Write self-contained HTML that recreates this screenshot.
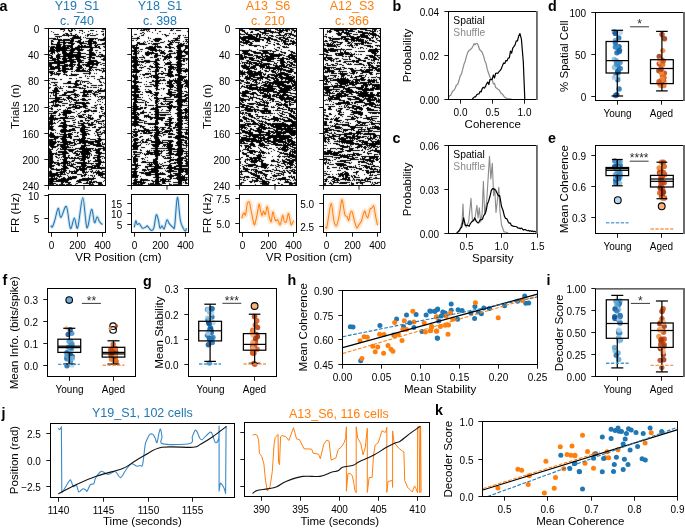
<!DOCTYPE html>
<html><head><meta charset="utf-8"><style>
html,body{margin:0;padding:0;background:#fff;}
svg{display:block;font-family:"Liberation Sans",sans-serif;will-change:transform;}
</style></head><body>
<svg width="685" height="528" viewBox="0 0 685 528">
<defs><filter id="rblur" x="-2%" y="-1%" width="104%" height="102%"><feConvolveMatrix order="3" kernelMatrix="0.02 0.08 0.02 0.08 1 0.08 0.02 0.08 0.02" divisor="1.4" edgeMode="none"/></filter></defs>
<rect width="685" height="528" fill="#fff"/>
<path d="M60 29.5h5m3 0h1m2 0h2m1 0h1m27 0h3M64 30.5h1m3 0h2m1 0h2m2 0h1m3 0h4m7 0h4M51 31.5h1m11 0h1m5 0h3m10 0h1m5 0h1m7 0h1m4 0h3M53 32.5h1m25 0h1m4 0h1M65 33.5h3m2 0h2m10 0h1m7 0h1m1 0h1m10 0h1M54 34.5h5m4 0h2m1 0h3m2 0h1m3 0h2m10 0h3m6 0h2m4 0h2M62 35.5h14m1 0h1m7 0h1m1 0h2m1 0h6m7 0h1M55 36.5h7m6 0h1m4 0h6m1 0h1m6 0h1M57 37.5h1m1 0h1m12 0h9m2 0h1m1 0h1m18 0h1M49 38.5h7m1 0h1m12 0h11m5 0h12m5 0h2M53 39.5h9m1 0h7m1 0h3m6 0h2m7 0h5m1 0h1m2 0h7M51 40.5h2m5 0h16m4 0h3m7 0h5m5 0h1m1 0h5M51 41.5h3m4 0h2m3 0h2m5 0h4m1 0h6m2 0h1m1 0h11M51 42.5h1m5 0h16m4 0h7m4 0h4m1 0h4m7 0h1M51 43.5h2m4 0h3m3 0h3m2 0h7m4 0h8m1 0h9m5 0h3M51 44.5h11m1 0h2m6 0h3m6 0h2m5 0h5m3 0h1m1 0h8M56 45.5h5m2 0h10m5 0h2m1 0h2m1 0h2m3 0h3m2 0h4M49 46.5h1m1 0h4m1 0h5m1 0h4m1 0h6m4 0h15m3 0h2m1 0h2m3 0h2M50 47.5h19m1 0h3m2 0h25m4 0h1M50 48.5h4m1 0h15m1 0h9m1 0h1m8 0h3m6 0h2M50 49.5h5m1 0h11m3 0h14m5 0h4M49 50.5h26m2 0h6m4 0h6m2 0h3m5 0h2M49 51.5h6m1 0h4m2 0h4m4 0h4m4 0h2m9 0h3M51 52.5h4m2 0h1m4 0h5m2 0h12m8 0h5m2 0h1m2 0h2M50 53.5h3m1 0h1m3 0h1m3 0h11m4 0h9m3 0h6M49 54.5h1m2 0h1m4 0h4m2 0h18m5 0h10m3 0h4M49 55.5h3m4 0h4m3 0h18m8 0h7m2 0h1m2 0h4M51 56.5h2m3 0h30m3 0h3m4 0h9M49 57.5h4m3 0h4m3 0h3m2 0h6m1 0h9m3 0h8m5 0h1m3 0h1M50 58.5h6m1 0h4m1 0h10m4 0h4m3 0h3m3 0h2m1 0h3m8 0h2M52 59.5h7m3 0h5m2 0h12m7 0h3m10 0h4M49 60.5h7m1 0h3m3 0h11m3 0h7m5 0h8m6 0h2M54 61.5h22m1 0h5m6 0h10M49 62.5h18m3 0h6m2 0h6m1 0h9m2 0h5M49 63.5h16m5 0h3m5 0h2m7 0h12m3 0h3M49 64.5h3m5 0h3m4 0h4m1 0h7m1 0h3m2 0h16m2 0h2M49 65.5h3m5 0h16m1 0h1m2 0h5m1 0h1m1 0h5m2 0h2m2 0h2m5 0h2M49 66.5h5m1 0h5m2 0h6m1 0h5m4 0h4m4 0h7M50 67.5h10m2 0h4m5 0h2m3 0h7m6 0h8M50 68.5h11m1 0h7m1 0h3m4 0h5m1 0h1m1 0h1m3 0h3m9 0h4M49 69.5h6m3 0h2m2 0h11m3 0h4m2 0h2m4 0h3m1 0h1m2 0h5m3 0h1M58 70.5h8m9 0h11m1 0h1m1 0h3m1 0h1m2 0h1m2 0h3m1 0h2M49 71.5h5m3 0h4m1 0h6m3 0h2m1 0h1m1 0h14m12 0h3M49 72.5h4m1 0h1m1 0h1m6 0h4m22 0h2m11 0h1M50 73.5h5m1 0h5m3 0h1m6 0h1m11 0h8m3 0h1m1 0h1M51 74.5h2m1 0h6m3 0h4m4 0h8m10 0h1M50 75.5h2m6 0h1m7 0h2m1 0h8m8 0h1M85 76.5h1m1 0h1m1 0h1m1 0h4m5 0h3M79 77.5h3m20 0h1M49 78.5h6m14 0h3m4 0h1m10 0h2m5 0h1m5 0h5M52 79.5h1m1 0h3m3 0h2m35 0h3M49 80.5h1m26 0h4m1 0h1m17 0h1M68 81.5h3m4 0h4m1 0h1m1 0h7m10 0h2M51 82.5h7m9 0h4m4 0h2m3 0h1m1 0h1m1 0h1m4 0h1m10 0h2m1 0h1M49 83.5h1m4 0h1m8 0h15m2 0h1m6 0h2m1 0h2m12 0h1M50 84.5h1m4 0h2m17 0h8m19 0h1M53 85.5h4m18 0h4m4 0h3m5 0h6m1 0h5M57 86.5h1m2 0h1m2 0h1m2 0h1m1 0h3m2 0h4m7 0h2m1 0h1M49 87.5h2m4 0h2m1 0h1m1 0h1m7 0h13m1 0h1m4 0h2m1 0h2m1 0h4m1 0h1M49 88.5h1m4 0h4m1 0h4m16 0h7m14 0h2M54 89.5h4m15 0h2m9 0h1m13 0h1m1 0h1m3 0h1M52 90.5h7m3 0h1m3 0h1m6 0h4m6 0h4m1 0h5m4 0h8M53 91.5h7m7 0h8m8 0h9m1 0h1m1 0h2m1 0h7M49 92.5h8m7 0h10m6 0h12m2 0h5M51 93.5h1m1 0h1m1 0h4m5 0h3m7 0h2m7 0h2m2 0h1m4 0h3m4 0h2M53 94.5h1m1 0h2m5 0h4m5 0h8m4 0h6m1 0h1m2 0h5M50 95.5h1m2 0h4m2 0h12m3 0h4m1 0h1m2 0h5m7 0h2M50 96.5h1m4 0h2m11 0h2m5 0h1m1 0h2m3 0h7m1 0h1m4 0h1m1 0h1m1 0h6M55 97.5h7m4 0h6m2 0h3m21 0h1m2 0h2m1 0h1M49 98.5h11m3 0h1m3 0h6m9 0h3m16 0h1m1 0h2M55 99.5h11m2 0h1m2 0h5m2 0h1m1 0h6m2 0h3m7 0h3m1 0h1M53 100.5h6m5 0h1m1 0h1m2 0h1m3 0h6m3 0h6m9 0h1M51 101.5h12m6 0h1m1 0h1m4 0h1m21 0h1m1 0h1M49 102.5h5m1 0h2m1 0h4m8 0h1m3 0h11m1 0h3m6 0h1m6 0h1M53 103.5h1m1 0h1m6 0h6m7 0h15M53 104.5h1m1 0h4m10 0h7m6 0h4m11 0h1m1 0h2m3 0h1M51 105.5h10m1 0h3m4 0h2m2 0h1m1 0h5m3 0h4m7 0h3M49 106.5h1m2 0h1m1 0h4m2 0h1m11 0h5m2 0h9m7 0h1m5 0h1M51 107.5h1m14 0h1m1 0h14m1 0h3m5 0h4m1 0h1m3 0h4M49 108.5h4m14 0h4m4 0h5m5 0h3m7 0h2m3 0h2M51 109.5h2m4 0h1m1 0h2m4 0h1m1 0h1m5 0h2m13 0h2m11 0h3M58 110.5h1m4 0h8m13 0h8m1 0h4M49 111.5h4m1 0h4m5 0h9m4 0h1m4 0h1m1 0h6m2 0h6m4 0h2M53 112.5h4m4 0h14m5 0h1m3 0h2m13 0h1m4 0h1M49 113.5h7m3 0h1m3 0h8m7 0h2m13 0h1m8 0h3M51 114.5h1m7 0h2m1 0h5m10 0h1m4 0h4m2 0h1m15 0h1M50 115.5h6m2 0h2m3 0h4m11 0h4m1 0h1m4 0h4m7 0h5M50 116.5h4m11 0h2m1 0h1m1 0h4m2 0h1m1 0h5m3 0h1m1 0h1m1 0h1m8 0h3m2 0h1M49 117.5h5m1 0h1m4 0h8m6 0h1m4 0h6m2 0h4m1 0h1m6 0h2M49 118.5h25m11 0h2m1 0h6m6 0h1M49 119.5h9m5 0h2m10 0h1m9 0h1m4 0h3m4 0h3M50 120.5h3m1 0h1m4 0h2m2 0h3m6 0h3m5 0h3m2 0h5m4 0h3m5 0h3M49 121.5h4m5 0h1m5 0h6m8 0h1m1 0h3m5 0h1m5 0h1m1 0h8M49 122.5h4m1 0h1m2 0h1m3 0h5m7 0h3m2 0h1m4 0h2m2 0h1m3 0h3m2 0h1m1 0h1M49 123.5h7m4 0h6m12 0h12m1 0h2m5 0h4m1 0h1M49 124.5h4m10 0h4m6 0h2m6 0h3m4 0h8m5 0h1m2 0h1M49 125.5h1m1 0h1m7 0h14m5 0h7m3 0h5m10 0h1M49 126.5h5m4 0h9m2 0h7m6 0h4m8 0h2m5 0h1m2 0h1M49 127.5h4m9 0h5m8 0h5m1 0h9m2 0h4m2 0h7M49 128.5h4m10 0h3m6 0h3m5 0h5m14 0h2M49 129.5h6m6 0h6m2 0h6m5 0h8m8 0h4M51 130.5h3m1 0h1m4 0h16m4 0h5m3 0h3m5 0h3m4 0h2M60 131.5h11m9 0h8m7 0h2m3 0h1m3 0h1M50 132.5h2m3 0h1m5 0h5m6 0h1m1 0h2m1 0h2m2 0h5m10 0h5m1 0h3M50 133.5h4m3 0h1m1 0h1m4 0h2m2 0h4m5 0h1m4 0h7m5 0h1m2 0h1m3 0h2m1 0h1M49 134.5h5m6 0h13m7 0h7m1 0h2m7 0h5M49 135.5h6m8 0h4m1 0h3m6 0h1m4 0h5m8 0h1m1 0h2M49 136.5h18m1 0h4m2 0h5m3 0h3m13 0h3M50 137.5h9m3 0h10m10 0h4m13 0h1M54 138.5h4m2 0h6m4 0h2m7 0h1m1 0h5m1 0h3m7 0h4M49 139.5h7m5 0h6m6 0h12m5 0h6m2 0h7M49 140.5h4m2 0h1m6 0h5m6 0h2m2 0h11m7 0h7M49 141.5h7m1 0h3m2 0h9m3 0h1m1 0h1m2 0h22M49 142.5h8m1 0h1m1 0h15m4 0h15m1 0h5m2 0h1M49 143.5h7m7 0h5m1 0h4m1 0h2m1 0h4m1 0h4m2 0h6m3 0h4m1 0h1m1 0h1M49 144.5h6m2 0h13m4 0h3m7 0h2m4 0h11m1 0h3M49 145.5h5m3 0h2m1 0h6m1 0h1m2 0h5m6 0h9m3 0h9M50 146.5h8m2 0h9m12 0h5m10 0h8M51 147.5h5m5 0h10m1 0h1m7 0h5m1 0h1m16 0h2M49 148.5h1m2 0h1m5 0h1m1 0h1m1 0h5m8 0h19m1 0h1m2 0h7M49 149.5h4m4 0h1m2 0h16m3 0h12m1 0h1m2 0h6m2 0h2M49 150.5h2m5 0h1m7 0h2m2 0h6m3 0h1m4 0h9m2 0h7m3 0h2M49 151.5h3m6 0h9m2 0h4m2 0h14m1 0h2m4 0h4M49 152.5h3m4 0h1m1 0h10m4 0h1m1 0h2m4 0h10m5 0h7M49 153.5h8m5 0h7m4 0h5m1 0h1m1 0h10m5 0h9M49 154.5h5m1 0h11m10 0h4m1 0h9m1 0h1m6 0h3M49 155.5h4m5 0h2m3 0h3m2 0h2m5 0h4m3 0h4m1 0h1m1 0h1m1 0h1m2 0h6M49 156.5h4m2 0h2m5 0h4m2 0h1m10 0h9m1 0h1m7 0h7M49 157.5h4m3 0h2m1 0h1m1 0h1m1 0h7m1 0h2m1 0h2m1 0h2m3 0h8m3 0h8m3 0h1M49 158.5h4m5 0h1m5 0h4m1 0h17m1 0h2m4 0h2m2 0h3m2 0h1m1 0h1M49 159.5h4m7 0h1m1 0h5m7 0h1m4 0h1m1 0h5m9 0h1m1 0h4M49 160.5h4m4 0h2m4 0h4m5 0h3m5 0h5m3 0h1m1 0h1m4 0h6M49 161.5h5m9 0h7m1 0h3m9 0h2m3 0h2m3 0h9m1 0h1M49 162.5h10m2 0h7m1 0h2m4 0h12m1 0h1m9 0h7M49 163.5h4m1 0h2m1 0h13m1 0h1m1 0h1m3 0h17m1 0h6M49 164.5h3m4 0h4m3 0h3m1 0h1m1 0h1m1 0h5m5 0h5m5 0h1m4 0h5M49 165.5h6m3 0h2m1 0h1m1 0h3m1 0h6m8 0h6m5 0h8m2 0h1M49 166.5h5m8 0h5m3 0h4m2 0h10m1 0h6m1 0h6M49 167.5h3m11 0h5m5 0h3m1 0h1m1 0h2m1 0h3m1 0h10m1 0h8M50 168.5h4m2 0h1m4 0h8m6 0h2m2 0h8m4 0h14M51 169.5h15m10 0h11m2 0h3m9 0h1M50 170.5h1m5 0h4m1 0h1m1 0h4m2 0h1m4 0h1m1 0h3m1 0h5m7 0h1m3 0h1m1 0h1M49 171.5h3m8 0h6m3 0h9m4 0h3m1 0h1m1 0h1m1 0h3m2 0h1m1 0h3m2 0h3M49 172.5h3m4 0h9m1 0h1m2 0h1m1 0h2m1 0h3m5 0h6m3 0h1m1 0h10M49 173.5h9m2 0h3m1 0h1m2 0h2m2 0h6m6 0h1m1 0h1m7 0h1m2 0h9M49 174.5h17m11 0h5m2 0h3m9 0h1m1 0h7M49 175.5h10m1 0h1m6 0h1m13 0h5m2 0h1m1 0h3m1 0h1m3 0h5M49 176.5h6m2 0h5m6 0h1m1 0h1m1 0h5m4 0h2m1 0h1m7 0h1m1 0h1m5 0h1m1 0h1M51 177.5h2m1 0h1m1 0h1m2 0h1m3 0h2m3 0h9m11 0h1m4 0h1m7 0h4M49 178.5h9m3 0h5m1 0h9m6 0h14m8 0h1M49 179.5h8m1 0h14m7 0h15M49 180.5h5m2 0h13m8 0h12m2 0h1m12 0h1M49 181.5h19m8 0h5m6 0h1m1 0h3m1 0h4m6 0h1M49 182.5h4m8 0h3m1 0h6m7 0h4m4 0h2m1 0h6m1 0h6M49 183.5h7m5 0h2m5 0h2m6 0h2m5 0h8m1 0h1m5 0h4M49 184.5h5m2 0h2m1 0h6m1 0h6m3 0h1m13 0h5m4 0h5" stroke="#000" stroke-width="1" fill="none" shape-rendering="crispEdges" filter="url(#rblur)"/>
<path d="M137 29.5h1m3 0h1m1 0h7m5 0h1m15 0h1m1 0h1M140 30.5h5m1 0h1m1 0h1m6 0h1m14 0h3m3 0h5M147 31.5h1m1 0h1m9 0h2m26 0h1M142 32.5h2m8 0h1M140 33.5h2m2 0h1m12 0h1m11 0h1m3 0h1m1 0h1M134 34.5h3m6 0h1m18 0h1m1 0h2M141 35.5h3m21 0h4m9 0h3m2 0h1m1 0h1M132 36.5h1m6 0h1m26 0h1m11 0h2M137 37.5h2m9 0h1m28 0h1m1 0h1m4 0h4M132 38.5h8m8 0h1m1 0h1m4 0h6m12 0h7M137 39.5h1m15 0h9m13 0h3m7 0h3M132 40.5h2m2 0h1m12 0h1m4 0h6m8 0h1m2 0h9m6 0h1M144 41.5h1m2 0h1m3 0h2m2 0h4m5 0h1m3 0h3m1 0h1m1 0h1m8 0h1m1 0h3M137 42.5h3m3 0h1m1 0h1m14 0h4m6 0h4m1 0h5m7 0h1M137 43.5h8m3 0h2m1 0h1m1 0h7m9 0h3m6 0h1m1 0h2m1 0h2m1 0h1M136 44.5h2m1 0h8m5 0h6m9 0h6m5 0h6M132 45.5h6m17 0h1m1 0h1m10 0h2m7 0h11M132 46.5h3m1 0h1m12 0h4m1 0h7m4 0h2m2 0h2m5 0h7m2 0h3M132 47.5h7m7 0h10m1 0h5m3 0h9m3 0h4m4 0h3M133 48.5h6m6 0h11m13 0h2m3 0h1m2 0h4m4 0h3M134 49.5h3m3 0h3m5 0h9m2 0h1m18 0h3m3 0h2M132 50.5h5m1 0h1m11 0h12m2 0h1m4 0h3m4 0h6m1 0h2M132 51.5h6m1 0h1m1 0h1m5 0h2m3 0h1m2 0h2m2 0h1m1 0h3m4 0h5m4 0h11M134 52.5h3m1 0h1m6 0h9m6 0h5m9 0h1m1 0h7m1 0h4M133 53.5h6m6 0h13m2 0h6m3 0h7m1 0h5m3 0h3M133 54.5h4m8 0h5m1 0h1m3 0h3m6 0h1m2 0h4m6 0h5m4 0h2M135 55.5h2m5 0h1m3 0h3m5 0h7m1 0h1m3 0h2m1 0h2m6 0h9M132 56.5h5m6 0h1m10 0h4m4 0h10m4 0h9M132 57.5h6m1 0h6m5 0h3m1 0h3m7 0h8m2 0h8M132 58.5h6m6 0h1m12 0h2m1 0h1m3 0h3m1 0h2m6 0h12M133 59.5h4m1 0h1m2 0h2m12 0h4m4 0h3m1 0h1m8 0h5m2 0h2m1 0h2M132 60.5h6m6 0h6m5 0h5m3 0h1m5 0h1m8 0h7m1 0h1M132 61.5h25m13 0h1m6 0h5m1 0h2M132 62.5h6m1 0h1m1 0h3m2 0h4m4 0h4m6 0h1m2 0h5m4 0h5M134 63.5h4m7 0h1m7 0h1m1 0h4m6 0h6m6 0h5m4 0h1M133 64.5h7m1 0h1m12 0h6m5 0h20M132 65.5h7m1 0h1m1 0h1m7 0h1m4 0h3m6 0h1m5 0h2m4 0h6M132 66.5h5m7 0h2m3 0h4m2 0h4m9 0h6m3 0h5M133 67.5h4m2 0h5m7 0h12m5 0h13M134 68.5h3m4 0h1m5 0h3m6 0h2m1 0h1m4 0h2m3 0h5m1 0h1m1 0h8m1 0h1M132 69.5h6m11 0h2m4 0h4m6 0h1m2 0h4m1 0h2m1 0h6m3 0h3M133 70.5h9m13 0h4m6 0h1m2 0h3m5 0h12M132 71.5h8m8 0h1m1 0h1m1 0h7m2 0h2m5 0h5m4 0h5m1 0h5M132 72.5h7m16 0h2m6 0h1m4 0h5m4 0h4m4 0h1M136 73.5h1m8 0h6m4 0h2m1 0h14m6 0h4M133 74.5h1m1 0h2m3 0h1m1 0h7m1 0h1m4 0h4m2 0h2m4 0h6m2 0h5m6 0h1M132 75.5h5m6 0h2m6 0h7m7 0h9m1 0h7M132 76.5h6m1 0h1m9 0h3m1 0h6m9 0h6m4 0h9M133 77.5h5m6 0h1m1 0h3m2 0h1m1 0h12m5 0h1m7 0h8M134 78.5h4m3 0h1m13 0h4m16 0h1m1 0h7M134 79.5h4m18 0h2m2 0h1m2 0h2m4 0h1m3 0h1m1 0h1m1 0h6m1 0h1m1 0h1M133 80.5h3m16 0h2m1 0h11m3 0h14m1 0h4M132 81.5h7m7 0h1m5 0h8m7 0h6m1 0h7m2 0h5M133 82.5h9m7 0h3m3 0h4m8 0h5m3 0h7m3 0h3M134 83.5h3m18 0h6m1 0h1m2 0h1m1 0h5m1 0h2m1 0h5m3 0h4M134 84.5h2m8 0h1m1 0h1m3 0h4m1 0h3m11 0h4m4 0h7m2 0h2M132 85.5h6m15 0h6m7 0h8m2 0h7m2 0h3M132 86.5h7m1 0h1m4 0h7m2 0h4m9 0h7m3 0h6m1 0h4M132 87.5h6m18 0h2m11 0h4m1 0h2m1 0h6m4 0h1M132 88.5h7m16 0h3m3 0h1m1 0h2m5 0h1m5 0h6m3 0h1M134 89.5h6m5 0h1m2 0h1m7 0h4m3 0h1m4 0h5m4 0h5M134 90.5h4m11 0h2m5 0h1m11 0h2m4 0h8M132 91.5h9m4 0h7m16 0h4m5 0h6m1 0h3M132 92.5h8m2 0h1m3 0h6m2 0h5m9 0h8m2 0h4m4 0h2M134 93.5h2m14 0h3m2 0h4m7 0h6m5 0h7M132 94.5h7m1 0h3m10 0h5m9 0h15m3 0h3M132 95.5h7m9 0h1m3 0h1m1 0h4m3 0h1m7 0h6m1 0h6m2 0h4M133 96.5h6m12 0h1m4 0h1m13 0h2m2 0h12M134 97.5h7m1 0h1m11 0h4m6 0h7m3 0h8m4 0h2M133 98.5h4m12 0h1m4 0h12m12 0h4m3 0h3M132 99.5h10m8 0h1m5 0h3m4 0h11m3 0h10M134 100.5h3m5 0h3m6 0h1m3 0h3m1 0h1m5 0h1m10 0h11M134 101.5h4m7 0h2m8 0h4m4 0h10m2 0h13M133 102.5h11m1 0h1m1 0h2m6 0h3m3 0h1m7 0h4m4 0h6m1 0h1M133 103.5h3m9 0h1m9 0h2m1 0h1m1 0h3m2 0h1m1 0h4m6 0h5m4 0h1M133 104.5h4m8 0h2m9 0h2m3 0h4m1 0h4m1 0h1m5 0h6M133 105.5h4m3 0h1m4 0h2m1 0h6m1 0h3m11 0h4m5 0h10M132 106.5h7m17 0h26M133 107.5h5m2 0h3m1 0h3m6 0h1m1 0h6m6 0h5m1 0h3m1 0h5m5 0h1M132 108.5h11m1 0h2m5 0h7m10 0h4m5 0h4m4 0h2M133 109.5h8m9 0h9m3 0h1m6 0h2m5 0h6m1 0h5M132 110.5h5m6 0h1m11 0h4m2 0h1m4 0h5m6 0h6m1 0h4M133 111.5h3m6 0h2m10 0h5m10 0h1m8 0h4m3 0h3M132 112.5h6m2 0h7m2 0h2m4 0h14m1 0h1m6 0h11M132 113.5h4m1 0h2m1 0h4m11 0h4m16 0h9m1 0h2M132 114.5h8m8 0h1m2 0h2m1 0h17m6 0h5m3 0h1m1 0h1M134 115.5h3m1 0h1m5 0h5m6 0h4m1 0h6m11 0h5m3 0h2M132 116.5h6m6 0h7m4 0h4m12 0h1m5 0h11M132 117.5h7m5 0h1m1 0h1m1 0h17m3 0h3m7 0h5m1 0h4M132 118.5h7m11 0h3m1 0h11m4 0h5m3 0h11M134 119.5h7m9 0h2m4 0h7m4 0h5m5 0h5m4 0h1M134 120.5h3m2 0h5m11 0h3m3 0h2m6 0h3m5 0h6m2 0h3M132 121.5h7m5 0h3m8 0h3m7 0h6m7 0h5M133 122.5h10m1 0h1m10 0h4m10 0h5m1 0h1m1 0h5m5 0h1M132 123.5h6m6 0h15m5 0h9m3 0h7m1 0h3M132 124.5h7m9 0h10m7 0h3m1 0h2m4 0h8m4 0h1M132 125.5h10m13 0h1m9 0h6m4 0h7M134 126.5h2m4 0h5m9 0h4m11 0h3m3 0h1m1 0h5M140 127.5h1m1 0h2m6 0h1m1 0h1m1 0h5m1 0h6m2 0h2m3 0h10m2 0h3M135 128.5h1m7 0h3m9 0h3m1 0h1m2 0h2m3 0h5m1 0h2m3 0h4M133 129.5h4m1 0h1m5 0h5m3 0h1m1 0h5m2 0h4m5 0h2m4 0h12M134 130.5h1m3 0h21m3 0h1m2 0h8m3 0h5m5 0h2M132 131.5h8m1 0h4m1 0h4m6 0h6m2 0h7m1 0h1m5 0h4m4 0h1M133 132.5h5m5 0h4m1 0h5m1 0h6m2 0h6m1 0h1m6 0h7m1 0h4M132 133.5h1m2 0h2m3 0h2m1 0h9m3 0h8m5 0h5m4 0h5m3 0h3M133 134.5h5m16 0h5m4 0h3m2 0h7m3 0h4m3 0h3M133 135.5h5m12 0h3m1 0h7m2 0h1m12 0h8M132 136.5h1m1 0h3m3 0h3m8 0h1m1 0h5m3 0h1m6 0h4m3 0h12M132 137.5h2m5 0h2m13 0h5m9 0h4m1 0h15M134 138.5h4m10 0h1m1 0h1m3 0h5m16 0h6m4 0h3M133 139.5h6m3 0h2m2 0h3m6 0h5m17 0h7m3 0h1M133 140.5h5m3 0h2m3 0h6m3 0h5m2 0h11m5 0h9M132 141.5h1m1 0h2m4 0h1m1 0h2m1 0h2m4 0h10m1 0h1m5 0h6m3 0h5m3 0h2M134 142.5h7m1 0h6m3 0h17m1 0h3m4 0h7m1 0h3M133 143.5h5m3 0h1m7 0h1m5 0h8m4 0h4m5 0h6m3 0h3M133 144.5h4m3 0h1m5 0h1m1 0h1m2 0h9m3 0h10m4 0h7m2 0h1M132 145.5h9m11 0h7m4 0h3m1 0h6m2 0h7m1 0h5M132 146.5h7m14 0h6m3 0h1m1 0h1m1 0h7m5 0h4m4 0h1M133 147.5h5m3 0h4m10 0h3m9 0h5m6 0h4m4 0h1M133 148.5h5m13 0h24m2 0h9M132 149.5h6m2 0h1m14 0h3m10 0h15m3 0h1M140 150.5h2m5 0h1m1 0h1m1 0h1m1 0h7m1 0h1m1 0h2m1 0h6m5 0h7M133 151.5h4m9 0h4m4 0h9m6 0h3m1 0h15M133 152.5h9m5 0h12m2 0h1m6 0h4m5 0h6m3 0h1M134 153.5h1m5 0h1m1 0h1m1 0h1m1 0h7m1 0h8m4 0h8m2 0h7m1 0h4M133 154.5h7m4 0h5m1 0h10m9 0h14m3 0h1M135 155.5h2m8 0h1m9 0h5m1 0h1m4 0h5m4 0h7m4 0h2M132 156.5h1m1 0h6m15 0h3m4 0h3m5 0h1m7 0h3m3 0h4M133 157.5h3m9 0h1m1 0h1m8 0h2m5 0h1m1 0h1m1 0h5m1 0h1m4 0h6m1 0h1M133 158.5h5m3 0h3m11 0h3m6 0h7m6 0h10M133 159.5h5m4 0h1m1 0h1m8 0h5m12 0h13m3 0h2M133 160.5h5m9 0h1m5 0h4m12 0h5m1 0h8m1 0h3M133 161.5h5m4 0h4m7 0h5m9 0h4m6 0h5m3 0h3M133 162.5h3m5 0h17m6 0h2m3 0h1m4 0h9m3 0h2M134 163.5h2m1 0h1m11 0h1m1 0h1m1 0h5m1 0h1m2 0h1m7 0h6m1 0h6m2 0h3M132 164.5h6m9 0h6m1 0h5m1 0h2m7 0h2m7 0h4m4 0h2M132 165.5h9m8 0h3m3 0h4m3 0h10m4 0h12M135 166.5h3m7 0h17m1 0h1m4 0h4m2 0h14M135 167.5h2m1 0h1m6 0h3m6 0h7m6 0h9m3 0h3M132 168.5h6m9 0h1m3 0h12m1 0h1m1 0h22M132 169.5h5m5 0h4m1 0h11m11 0h3m2 0h14M134 170.5h2m6 0h5m1 0h1m2 0h8m6 0h1m1 0h7m4 0h6m1 0h3M132 171.5h6m6 0h1m4 0h10m7 0h11m1 0h10M132 172.5h5m2 0h5m1 0h13m2 0h1m1 0h1m5 0h3m7 0h5m2 0h3M133 173.5h4m4 0h10m4 0h10m5 0h1m2 0h8m5 0h2M132 174.5h5m8 0h21m4 0h2m3 0h7m3 0h3M132 175.5h7m7 0h5m4 0h4m9 0h13m1 0h1m1 0h1M132 176.5h6m2 0h1m14 0h4m8 0h7m3 0h8M132 177.5h6m15 0h8m8 0h3m4 0h12M135 178.5h1m5 0h1m14 0h3m3 0h2m1 0h1m4 0h2m1 0h12m1 0h1M134 179.5h4m2 0h8m7 0h4m1 0h11m6 0h11M133 180.5h4m3 0h10m1 0h2m2 0h4m1 0h6m2 0h1m9 0h9M134 181.5h8m1 0h1m8 0h9m1 0h9m7 0h4m3 0h1M133 182.5h13m7 0h1m1 0h4m3 0h3m8 0h9m1 0h1m1 0h2M132 183.5h5m1 0h1m1 0h5m3 0h1m1 0h4m1 0h5m2 0h4m3 0h1m8 0h4m3 0h3M133 184.5h10m5 0h14m7 0h3m1 0h9" stroke="#000" stroke-width="1" fill="none" shape-rendering="crispEdges" filter="url(#rblur)"/>
<path d="M240 29.5h3m6 0h18m1 0h1m1 0h1m4 0h3m1 0h2m1 0h2m1 0h5m1 0h3M240 30.5h5m10 0h4m5 0h7m6 0h11m1 0h1m2 0h4M242 31.5h3m6 0h2m6 0h2m3 0h10m1 0h1m3 0h4m3 0h2m3 0h1m2 0h2M244 32.5h2m1 0h1m2 0h3m7 0h6m4 0h12m1 0h1m7 0h1m2 0h1M240 33.5h1m4 0h3m9 0h2m3 0h7m3 0h1m5 0h2m5 0h7M240 34.5h5m1 0h6m1 0h8m1 0h1m2 0h1m13 0h2m3 0h3m2 0h5M248 35.5h5m3 0h2m1 0h2m3 0h1m1 0h2m1 0h4m3 0h9m1 0h1m1 0h1m1 0h1m1 0h4M240 36.5h1m2 0h12m1 0h2m1 0h2m7 0h1m2 0h3m1 0h1m7 0h1m1 0h1m3 0h1m4 0h2M240 37.5h17m2 0h7m2 0h3m5 0h2m1 0h6m2 0h4M240 38.5h20m4 0h9m5 0h3m2 0h5m3 0h3M241 39.5h5m2 0h16m2 0h4m1 0h6m2 0h4m2 0h4m6 0h1M242 40.5h7m5 0h6m2 0h2m3 0h3m4 0h4m3 0h5m2 0h1m1 0h2m1 0h1M240 41.5h2m1 0h1m1 0h5m2 0h2m1 0h5m7 0h1m1 0h2m6 0h3m1 0h1m1 0h6m1 0h5M240 42.5h12m14 0h2m6 0h1m8 0h3m6 0h4M243 43.5h5m2 0h3m15 0h3m5 0h3m3 0h1m1 0h4m1 0h7M240 44.5h1m5 0h1m1 0h4m21 0h2m2 0h3m4 0h7m1 0h2M241 45.5h3m5 0h11m5 0h3m6 0h1m5 0h1m7 0h1m6 0h1M254 46.5h3m3 0h1m1 0h2m18 0h3m1 0h1M263 47.5h1m1 0h1m11 0h3m3 0h6M263 48.5h1m10 0h1m4 0h1M249 49.5h1m7 0h1m17 0h2m4 0h1M240 50.5h12m7 0h13m4 0h3m9 0h2M242 51.5h7m2 0h5m6 0h6m2 0h1m1 0h4m4 0h2m8 0h3M243 52.5h5m5 0h8m2 0h6m4 0h1m7 0h5m5 0h4M242 53.5h8m4 0h20m5 0h1m4 0h2m5 0h1m1 0h3M240 54.5h2m2 0h9m8 0h2m2 0h1m3 0h14m6 0h4M240 55.5h3m1 0h1m3 0h5m1 0h4m3 0h2m2 0h3m2 0h12m1 0h2m3 0h8M240 56.5h3m1 0h3m6 0h1m2 0h5m1 0h18m6 0h4m1 0h5M240 57.5h13m3 0h7m1 0h1m1 0h8m4 0h1m3 0h2m4 0h7M240 58.5h4m1 0h1m3 0h6m1 0h1m1 0h2m2 0h2m1 0h11m1 0h11m1 0h7M240 59.5h4m5 0h5m6 0h14m6 0h4m2 0h4m2 0h4M246 60.5h3m2 0h8m2 0h10m6 0h7m7 0h1m2 0h2M241 61.5h1m5 0h4m6 0h5m5 0h7m6 0h5m2 0h3m3 0h3M242 62.5h6m1 0h8m2 0h1m1 0h2m11 0h1m2 0h1m2 0h6m1 0h1m1 0h4m1 0h2M240 63.5h1m1 0h1m1 0h1m1 0h6m1 0h9m1 0h7m4 0h3m3 0h4m2 0h1m3 0h3M244 64.5h2m3 0h1m1 0h2m2 0h4m1 0h12m1 0h1m2 0h1m4 0h4m2 0h3m1 0h4M241 65.5h6m2 0h1m3 0h14m1 0h1m4 0h5m1 0h6m1 0h2m1 0h3m1 0h3M241 66.5h9m1 0h5m3 0h6m1 0h4m5 0h12m2 0h3M242 67.5h7m1 0h6m4 0h5m1 0h14m1 0h1m1 0h6m3 0h4M243 68.5h12m1 0h1m3 0h1m1 0h1m2 0h18m5 0h4M246 69.5h4m4 0h3m5 0h1m6 0h1m3 0h3m1 0h9m4 0h4M240 70.5h1m1 0h1m5 0h4m8 0h1m3 0h3m2 0h1m1 0h3m2 0h1m1 0h1m1 0h2m1 0h10M240 71.5h3m1 0h1m2 0h9m2 0h3m4 0h4m2 0h5m2 0h1m1 0h1m5 0h8M240 72.5h13m1 0h9m9 0h4m1 0h1m2 0h5m3 0h4m2 0h2M240 73.5h5m2 0h15m1 0h1m1 0h1m9 0h2m1 0h10m6 0h2M240 74.5h6m2 0h14m1 0h3m2 0h7m1 0h15M242 75.5h1m4 0h1m1 0h9m1 0h3m2 0h1m2 0h2m2 0h11m2 0h5m3 0h1M240 76.5h1m1 0h1m2 0h3m1 0h6m5 0h4m3 0h3m4 0h4m1 0h4m3 0h6m1 0h2M245 77.5h6m2 0h21m1 0h2m1 0h17M244 78.5h9m4 0h6m2 0h3m3 0h7m2 0h14M240 79.5h1m5 0h4m1 0h8m1 0h1m1 0h1m4 0h3m3 0h2m1 0h3m2 0h2m2 0h8m1 0h1M240 80.5h4m2 0h1m3 0h1m2 0h4m2 0h2m8 0h2m3 0h5m2 0h1m3 0h1m2 0h7M241 81.5h3m3 0h1m4 0h2m1 0h2m5 0h1m2 0h4m4 0h23M240 82.5h1m3 0h6m4 0h4m1 0h1m2 0h4m1 0h23m1 0h1m1 0h3M240 83.5h2m4 0h4m1 0h1m4 0h1m1 0h2m1 0h1m3 0h3m1 0h15m3 0h2m2 0h2m1 0h2M244 84.5h1m5 0h8m5 0h4m1 0h3m1 0h2m1 0h11m6 0h4M242 85.5h1m3 0h11m4 0h12m4 0h14m1 0h4M241 86.5h4m1 0h2m1 0h3m4 0h2m2 0h1m3 0h16m2 0h12m1 0h1M241 87.5h1m2 0h20m3 0h6m5 0h4m2 0h8m2 0h2M240 88.5h1m6 0h11m1 0h2m1 0h14m3 0h13m1 0h3M249 89.5h26m1 0h1m3 0h10m1 0h2m2 0h1M245 90.5h3m4 0h1m4 0h17m4 0h13m2 0h3M242 91.5h9m7 0h1m1 0h1m2 0h14m2 0h9M240 92.5h1m1 0h7m3 0h4m3 0h5m3 0h2m4 0h18M240 93.5h17m3 0h6m1 0h1m1 0h1m7 0h3m3 0h3m4 0h6M242 94.5h4m4 0h4m2 0h2m6 0h4m1 0h2m2 0h6m1 0h1m1 0h6m7 0h1M241 95.5h6m6 0h1m3 0h4m1 0h9m1 0h3m1 0h16M242 96.5h7m1 0h1m2 0h1m8 0h9m1 0h5m2 0h5m3 0h2m3 0h4M240 97.5h1m7 0h1m1 0h7m6 0h4m1 0h3m5 0h9m1 0h6m1 0h3M240 98.5h4m5 0h4m3 0h4m2 0h1m4 0h7m5 0h15M240 99.5h10m2 0h1m6 0h4m7 0h5m5 0h14m1 0h1M240 100.5h6m2 0h2m2 0h1m9 0h2m1 0h1m1 0h1m1 0h2m1 0h2m7 0h2m1 0h2m3 0h1m1 0h5M241 101.5h2m2 0h1m9 0h2m3 0h2m1 0h2m1 0h1m5 0h2m1 0h4m5 0h7m3 0h2M240 102.5h1m1 0h2m12 0h4m2 0h7m1 0h1m8 0h2m4 0h3m1 0h1m1 0h5M240 103.5h2m5 0h9m1 0h1m1 0h2m3 0h1m1 0h3m7 0h3m2 0h1m2 0h2m3 0h2M240 104.5h5m4 0h5m2 0h9m2 0h1m8 0h12m1 0h5M242 105.5h7m9 0h10m7 0h1m2 0h4m1 0h5m1 0h2M240 106.5h4m2 0h7m3 0h2m6 0h5m2 0h1m1 0h1m3 0h1m7 0h3M241 107.5h7m2 0h4m3 0h2m5 0h1m6 0h4m3 0h2m3 0h1m2 0h4M245 108.5h6m3 0h1m7 0h6m9 0h6m5 0h8M244 109.5h15m5 0h4m9 0h1m4 0h5m1 0h2m1 0h2m1 0h2M241 110.5h3m1 0h8m1 0h2m1 0h14m2 0h1m1 0h6m7 0h5M240 111.5h1m6 0h6m1 0h3m3 0h11m11 0h2m6 0h5M240 112.5h1m1 0h2m1 0h2m8 0h1m2 0h1m2 0h4m1 0h1m1 0h3m8 0h1m2 0h1m1 0h4m3 0h1m1 0h2M240 113.5h4m1 0h6m11 0h11m1 0h1m2 0h1m2 0h3m5 0h3m2 0h3M242 114.5h1m1 0h1m3 0h3m4 0h3m20 0h1m3 0h3m4 0h3M246 115.5h1m1 0h5m4 0h1m12 0h1m8 0h3m4 0h1m2 0h5m1 0h1M240 116.5h1m2 0h2m4 0h4m3 0h8m1 0h2m6 0h2m5 0h3m6 0h6M242 117.5h5m4 0h4m4 0h1m2 0h1m5 0h1m4 0h5m5 0h5m3 0h5M243 118.5h6m5 0h2m1 0h2m3 0h4m5 0h10m1 0h1m4 0h3m3 0h3M240 119.5h2m2 0h3m1 0h4m4 0h1m8 0h14m1 0h5m3 0h4m2 0h2M240 120.5h3m3 0h1m4 0h3m3 0h3m1 0h1m6 0h2m4 0h5m4 0h10M240 121.5h3m3 0h4m1 0h4m4 0h5m1 0h1m7 0h2m2 0h1m1 0h2m3 0h12M244 122.5h1m8 0h3m2 0h1m3 0h1m1 0h3m15 0h2m7 0h5M245 123.5h6m1 0h6m1 0h4m2 0h6m1 0h14m6 0h4M240 124.5h6m1 0h12m1 0h5m2 0h21m2 0h6M240 125.5h9m9 0h5m1 0h2m2 0h1m1 0h4m1 0h21M240 126.5h5m3 0h3m3 0h2m3 0h6m6 0h25M240 127.5h7m11 0h9m1 0h2m3 0h9m2 0h2m1 0h4m1 0h1m2 0h1M241 128.5h2m1 0h2m1 0h1m2 0h2m4 0h4m1 0h12m3 0h20M240 129.5h2m4 0h1m3 0h4m3 0h5m1 0h3m7 0h2m1 0h17M241 130.5h4m3 0h3m2 0h9m6 0h2m4 0h4m3 0h2m2 0h11M242 131.5h6m1 0h2m4 0h9m4 0h6m1 0h7m1 0h13M240 132.5h1m1 0h11m5 0h12m1 0h25M240 133.5h2m3 0h8m6 0h2m5 0h5m2 0h2m1 0h10m3 0h7M248 134.5h22m2 0h1m3 0h5m2 0h1m6 0h6M243 135.5h4m2 0h15m1 0h25m1 0h4M240 136.5h1m5 0h5m1 0h7m1 0h1m2 0h2m3 0h23M241 137.5h6m2 0h1m3 0h12m2 0h25m3 0h1M241 138.5h15m2 0h13m2 0h4m2 0h10m2 0h2m1 0h1M240 139.5h17m1 0h1m1 0h2m1 0h6m4 0h13m1 0h5M240 140.5h10m1 0h14m2 0h4m2 0h10m2 0h1m1 0h6M240 141.5h4m2 0h16m2 0h22m1 0h8M240 142.5h2m1 0h2m6 0h2m3 0h5m1 0h1m2 0h2m1 0h1m2 0h5m2 0h9m1 0h2m1 0h5M240 143.5h8m2 0h4m5 0h5m3 0h4m2 0h5m5 0h1m1 0h4m1 0h5M249 144.5h6m4 0h6m6 0h11m1 0h3m1 0h9M240 145.5h2m2 0h5m1 0h5m3 0h11m6 0h16m1 0h4M241 146.5h1m3 0h6m2 0h3m4 0h3m1 0h1m18 0h5m2 0h3M245 147.5h2m1 0h3m7 0h1m4 0h4m9 0h2m2 0h1m1 0h7m3 0h4M245 148.5h1m1 0h2m1 0h2m7 0h1m6 0h2m1 0h3m6 0h2m1 0h5m1 0h1m1 0h2m3 0h2M243 149.5h6m11 0h1m7 0h1m4 0h1m4 0h11m2 0h4M240 150.5h1m1 0h1m4 0h8m5 0h2m12 0h1m7 0h6m2 0h1m1 0h1m1 0h2M240 151.5h1m8 0h9m1 0h1m1 0h3m7 0h1m5 0h2m5 0h3m3 0h6M242 152.5h2m3 0h6m1 0h2m2 0h8m2 0h1m10 0h3m1 0h1m5 0h2m1 0h4M242 153.5h5m3 0h3m7 0h1m1 0h3m1 0h1m1 0h2m10 0h8m1 0h2m1 0h1m1 0h2M243 154.5h4m6 0h2m3 0h3m18 0h1m4 0h10M246 155.5h3m7 0h6m1 0h1m14 0h1m8 0h1m1 0h7M246 156.5h3m8 0h5m10 0h1m4 0h4m1 0h14M241 157.5h2m6 0h3m1 0h8m1 0h4m13 0h1m4 0h1m3 0h2m2 0h4M240 158.5h1m6 0h1m2 0h11m25 0h1m3 0h2m3 0h1M240 159.5h1m4 0h8m1 0h3m1 0h4m11 0h1m3 0h2m3 0h1m2 0h5m2 0h4M245 160.5h1m1 0h1m1 0h1m1 0h9m1 0h3m7 0h4m3 0h1m3 0h3m2 0h9M240 161.5h1m3 0h2m4 0h8m1 0h4m8 0h7m2 0h1m1 0h5m2 0h5m1 0h1M240 162.5h1m4 0h1m5 0h6m4 0h2m14 0h3m3 0h11M240 163.5h1m5 0h2m6 0h1m6 0h5m15 0h4m2 0h6m2 0h1M242 164.5h1m5 0h8m5 0h8m2 0h1m5 0h2m5 0h2m1 0h1m1 0h5M240 165.5h1m3 0h14m3 0h7m2 0h4m1 0h1m2 0h3m4 0h1m4 0h3m1 0h1M242 166.5h2m2 0h1m1 0h5m3 0h11m9 0h3m2 0h3m2 0h5m4 0h1M243 167.5h2m9 0h3m4 0h6m1 0h1m6 0h1m3 0h1m6 0h7m1 0h2M240 168.5h1m2 0h5m10 0h1m5 0h2m1 0h1m8 0h1m5 0h1m2 0h3m2 0h1M243 169.5h7m1 0h6m15 0h2m2 0h1m15 0h3M241 170.5h1m3 0h3m3 0h1m1 0h1m1 0h3m4 0h9m3 0h6m3 0h2m1 0h2m1 0h4m1 0h2M240 171.5h9m5 0h8m3 0h4m1 0h3m6 0h4m1 0h1m2 0h2m2 0h4M240 172.5h2m6 0h4m3 0h2m1 0h5m11 0h1m7 0h4m2 0h3m2 0h3M241 173.5h1m8 0h5m1 0h1m1 0h1m1 0h5m6 0h1m4 0h6m1 0h1m5 0h2m2 0h3M240 174.5h3m8 0h6m6 0h5m6 0h1m3 0h1m2 0h3M253 175.5h7m2 0h1m1 0h3m5 0h9m2 0h1m7 0h1M240 176.5h1m3 0h5m6 0h5m5 0h2m6 0h4m11 0h4m1 0h2M240 177.5h5m1 0h4m1 0h4m2 0h3m1 0h1m1 0h1m1 0h1m4 0h2m10 0h4m3 0h1m1 0h4M244 178.5h1m10 0h7m3 0h2m6 0h1m2 0h1m1 0h8m6 0h1m1 0h1M240 179.5h2m1 0h1m3 0h1m4 0h1m3 0h2m2 0h3m3 0h5m4 0h1m1 0h13m4 0h2M243 180.5h3m6 0h7m3 0h3m7 0h3m5 0h1m4 0h1m1 0h1m2 0h1m2 0h1m1 0h1M249 181.5h4m1 0h4m1 0h10m16 0h4M241 182.5h3m6 0h2m2 0h1m7 0h5m1 0h2m8 0h1m5 0h8m2 0h2M240 183.5h2m18 0h9m9 0h2m9 0h7M240 184.5h2m13 0h1m6 0h7m5 0h2m5 0h2m6 0h4m2 0h1" stroke="#000" stroke-width="1" fill="none" shape-rendering="crispEdges" filter="url(#rblur)"/>
<path d="M330 29.5h18m2 0h7m3 0h7m5 0h5M327 30.5h1m1 0h2m3 0h10m1 0h8m5 0h1m6 0h6m1 0h1m1 0h2m3 0h1M327 31.5h5m4 0h3m3 0h2m2 0h1m1 0h7m3 0h5m7 0h6m1 0h1M327 32.5h1m1 0h2m7 0h2m1 0h8m7 0h1m1 0h10m1 0h1m2 0h2M336 33.5h6m2 0h8m10 0h14m3 0h1M325 34.5h2m10 0h5m4 0h4m3 0h5m2 0h5m3 0h1m1 0h7M338 35.5h3m6 0h1m1 0h2m9 0h8m1 0h1m2 0h7M324 36.5h3m5 0h1m8 0h13m3 0h11m5 0h1m1 0h1m2 0h2M326 37.5h1m1 0h3m10 0h5m4 0h10m1 0h8m2 0h3m1 0h1m3 0h1M329 38.5h14m1 0h5m2 0h8m1 0h1m5 0h5m1 0h1m3 0h2M330 39.5h1m1 0h8m1 0h1m1 0h12m1 0h8m5 0h2m5 0h1M325 40.5h2m2 0h4m12 0h3m3 0h13m1 0h1m1 0h1m1 0h5m3 0h3M324 41.5h4m4 0h6m7 0h4m2 0h1m1 0h2m1 0h1m1 0h6m1 0h2m5 0h3m4 0h1M331 42.5h1m1 0h3m1 0h6m5 0h3m1 0h1m8 0h8m6 0h2M324 43.5h1m1 0h3m1 0h1m1 0h2m6 0h2m5 0h3m1 0h1m2 0h10m1 0h1m1 0h5M324 44.5h1m2 0h6m1 0h1m1 0h5m9 0h2m3 0h3m1 0h1m1 0h3M324 45.5h12m1 0h1m7 0h1m1 0h6m1 0h1m1 0h2m6 0h7m4 0h5M327 46.5h10m1 0h2m9 0h1m1 0h2m14 0h6m4 0h1m1 0h1M336 47.5h1m15 0h2m1 0h1m4 0h3m7 0h1m1 0h1M324 48.5h2m2 0h1m1 0h4m7 0h1m16 0h1m1 0h1m2 0h1m2 0h1m8 0h2M324 49.5h3m1 0h17m1 0h6m17 0h11M324 50.5h14m2 0h1m2 0h1m1 0h1m22 0h10M324 51.5h4m2 0h6m1 0h1m2 0h1m3 0h2m9 0h2m1 0h7m3 0h11M326 52.5h3m11 0h3m1 0h5m1 0h1m20 0h5m1 0h1M324 53.5h1m10 0h15m1 0h1m2 0h1m17 0h5M324 54.5h4m7 0h2m1 0h6m1 0h10m1 0h1m1 0h1m1 0h2m12 0h2M326 55.5h6m4 0h7m7 0h3m13 0h7m1 0h6M326 56.5h1m15 0h2m1 0h2m1 0h5m1 0h1m14 0h6m2 0h1M324 57.5h8m17 0h1m5 0h2m8 0h3m2 0h6m2 0h2M324 58.5h2m1 0h6m2 0h4m3 0h1m6 0h1m6 0h4m4 0h4m5 0h4m2 0h1M324 59.5h2m2 0h4m1 0h2m1 0h1m6 0h5m1 0h2m7 0h3m7 0h2m1 0h1m1 0h6M325 60.5h3m2 0h4m5 0h2m11 0h3m1 0h10m5 0h4m3 0h1M331 61.5h1m1 0h1m2 0h5m3 0h15m4 0h3m8 0h1M343 62.5h3m7 0h1m2 0h3m8 0h5m1 0h1m3 0h3M326 63.5h2m7 0h3m8 0h1m1 0h1m1 0h1m8 0h3m5 0h3m1 0h2m1 0h1m2 0h1m1 0h1M325 64.5h1m1 0h1m3 0h3m3 0h1m1 0h3m5 0h5m2 0h10m4 0h3M327 65.5h4m1 0h5m5 0h2m19 0h2m1 0h1m1 0h5m3 0h4M324 66.5h2m43 0h1m1 0h3m3 0h3M324 67.5h12m4 0h1m1 0h3m16 0h2m1 0h2m2 0h10M324 68.5h6m1 0h1m1 0h1m2 0h5m3 0h3m1 0h5m2 0h1m13 0h1m2 0h5m1 0h2M324 69.5h1m2 0h3m4 0h8m1 0h1m6 0h4m6 0h2m2 0h1m1 0h7m2 0h5M325 70.5h1m1 0h7m5 0h1m11 0h13m1 0h8m1 0h1m1 0h4M325 71.5h10m3 0h9m4 0h5m5 0h9m7 0h3M324 72.5h4m1 0h1m1 0h3m6 0h1m1 0h1m6 0h1m2 0h3m1 0h2m4 0h11M331 73.5h6m1 0h10m2 0h5m1 0h1m3 0h3m6 0h3m4 0h4M340 74.5h7m6 0h1m12 0h1m3 0h3m3 0h1M324 75.5h1m3 0h1m1 0h7m4 0h4m2 0h3m1 0h1m7 0h5m1 0h1M324 76.5h5m5 0h2m2 0h1m2 0h3m7 0h1m3 0h7m3 0h1m10 0h1M324 77.5h3m6 0h1m1 0h1m5 0h1m1 0h1m1 0h1m4 0h3m1 0h3m4 0h4m3 0h1m2 0h5m1 0h3M324 78.5h3m1 0h5m4 0h2m1 0h6m1 0h1m8 0h1m3 0h4m15 0h1M324 79.5h4m2 0h1m2 0h16m4 0h13m2 0h2m1 0h1m1 0h2m1 0h1m2 0h1M324 80.5h1m1 0h2m2 0h21m1 0h1m2 0h5m1 0h4m2 0h10M325 81.5h5m7 0h13m1 0h3m1 0h3m1 0h1m8 0h7m1 0h1M326 82.5h1m1 0h1m1 0h1m7 0h21m1 0h11m1 0h3m1 0h3M324 83.5h3m8 0h3m1 0h9m1 0h5m1 0h12m1 0h1m1 0h2M324 84.5h4m3 0h1m5 0h1m2 0h6m1 0h1m1 0h8m6 0h17M332 85.5h1m1 0h8m3 0h4m3 0h3m6 0h7m1 0h1m2 0h8M324 86.5h14m1 0h6m1 0h1m8 0h1m5 0h3m1 0h3m4 0h1m1 0h6M324 87.5h6m3 0h12m3 0h16m1 0h2m5 0h3m1 0h4M324 88.5h5m4 0h1m9 0h7m6 0h7m1 0h5m1 0h10M324 89.5h16m3 0h1m1 0h7m6 0h16m1 0h5M325 90.5h7m4 0h1m4 0h2m3 0h7m9 0h12M326 91.5h4m3 0h1m1 0h4m1 0h14m1 0h2m1 0h4m1 0h4M324 92.5h7m1 0h1m6 0h1m1 0h3m2 0h13m1 0h9m1 0h3m4 0h3M325 93.5h3m1 0h6m2 0h9m3 0h3m4 0h12m2 0h3m4 0h3M324 94.5h1m2 0h1m1 0h1m6 0h6m2 0h5m2 0h2m5 0h17m1 0h3M324 95.5h6m2 0h16m9 0h23M329 96.5h5m2 0h10m1 0h9m3 0h15m3 0h3M328 97.5h1m1 0h10m1 0h1m11 0h6m3 0h2m1 0h1m2 0h8M328 98.5h5m1 0h6m7 0h4m4 0h5m4 0h7m1 0h1m1 0h3m1 0h1M326 99.5h1m1 0h13m7 0h14m1 0h2m1 0h11m1 0h2M324 100.5h2m1 0h1m1 0h2m8 0h6m5 0h1m8 0h5m3 0h8m1 0h4M329 101.5h1m1 0h1m11 0h2m1 0h3m6 0h8m4 0h4m5 0h4M333 102.5h1m4 0h12m1 0h2m1 0h11m4 0h5m2 0h1m1 0h2M335 103.5h15m2 0h1m1 0h2m8 0h11M325 104.5h4m1 0h1m1 0h2m2 0h5m4 0h1m1 0h5m5 0h1m7 0h11m1 0h1m1 0h1M344 105.5h1m1 0h2m4 0h4m5 0h1m1 0h4m2 0h4m2 0h5M328 106.5h7m4 0h1m1 0h1m2 0h1m1 0h1m1 0h1m3 0h8m3 0h1m7 0h5M329 107.5h2m13 0h2m1 0h7m2 0h6m5 0h2m5 0h6M328 108.5h3m7 0h5m6 0h1m2 0h11m3 0h5m8 0h1M324 109.5h2m2 0h4m4 0h1m3 0h2m4 0h3m5 0h3m2 0h4m4 0h7M324 110.5h2m10 0h1m1 0h3m9 0h3m3 0h1m4 0h1m5 0h11m1 0h1M337 111.5h4m11 0h9M324 112.5h2m13 0h3m1 0h1m7 0h12m5 0h12M329 113.5h2m7 0h2m13 0h10m7 0h1m1 0h5m1 0h2M324 114.5h1m4 0h3m6 0h6m6 0h4m4 0h5M324 115.5h4m7 0h1m4 0h2m12 0h1m5 0h2m3 0h2M326 116.5h3m5 0h1m7 0h1m4 0h4m1 0h1m1 0h3m9 0h1m4 0h8M336 117.5h1m1 0h2m11 0h3m2 0h3m1 0h2m4 0h6M324 118.5h4m3 0h1m1 0h1m1 0h4m12 0h5m1 0h1m5 0h7m1 0h6M325 119.5h4m1 0h3m1 0h4m7 0h10m12 0h6M334 120.5h8m5 0h1m8 0h2m12 0h1m1 0h3M324 121.5h3m3 0h2m4 0h4m3 0h1m11 0h1m1 0h4m8 0h1m1 0h1m3 0h1m1 0h3M324 122.5h3m2 0h3m8 0h1m1 0h1m2 0h4m8 0h12m1 0h3M324 123.5h3m7 0h1m1 0h2m10 0h1m1 0h1m7 0h2m2 0h4m5 0h9M324 124.5h3m8 0h14m7 0h2m2 0h3m1 0h1m4 0h1m1 0h4m4 0h1M324 125.5h5m1 0h1m1 0h1m1 0h2m6 0h8m5 0h13m7 0h1M331 126.5h9m8 0h8m16 0h7M328 127.5h1m1 0h1m4 0h7m8 0h13m2 0h1m1 0h1m2 0h1m1 0h1m1 0h6M324 128.5h6m5 0h6m1 0h1m8 0h4m6 0h1m5 0h13M324 129.5h4m1 0h5m7 0h1m1 0h11m4 0h8m1 0h3m7 0h3M325 130.5h7m1 0h7m3 0h5m3 0h1m1 0h2m3 0h1m2 0h1m2 0h1m3 0h5M324 131.5h4m9 0h5m1 0h1m1 0h1m10 0h16m1 0h7M324 132.5h5m2 0h1m2 0h1m7 0h2m5 0h3m4 0h5m7 0h1M324 133.5h1m4 0h3m2 0h2m8 0h19m1 0h11M325 134.5h1m1 0h1m4 0h2m2 0h16m1 0h2m2 0h2m1 0h1m2 0h13M324 135.5h1m2 0h3m2 0h4m3 0h2m3 0h3m5 0h3m1 0h2m12 0h1m2 0h7M324 136.5h1m4 0h11m4 0h7m1 0h9m1 0h5m1 0h1m1 0h1m2 0h4m2 0h1M324 137.5h8m1 0h1m5 0h1m1 0h3m2 0h9m2 0h7m3 0h1m2 0h2m1 0h3m1 0h1m1 0h1M324 138.5h3m1 0h1m2 0h4m3 0h10m1 0h11m5 0h1m1 0h8m4 0h1M324 139.5h2m1 0h3m3 0h3m3 0h7m4 0h1m1 0h1m1 0h1m1 0h2m10 0h3m1 0h1m2 0h2m1 0h1M324 140.5h2m2 0h1m8 0h1m1 0h1m1 0h13m4 0h6m4 0h1m1 0h2m5 0h3M324 141.5h3m1 0h2m4 0h19m3 0h2m1 0h2m1 0h6m3 0h9M325 142.5h1m1 0h1m11 0h1m1 0h13m7 0h7m4 0h2m1 0h5M328 143.5h1m1 0h1m2 0h5m4 0h1m1 0h1m1 0h13m3 0h1m1 0h16M336 144.5h4m10 0h4m1 0h13m1 0h11M324 145.5h3m12 0h5m3 0h1m2 0h1m7 0h4m4 0h10M340 146.5h10m1 0h1m5 0h6m1 0h2m1 0h1m1 0h1m1 0h7m1 0h1M342 147.5h6m1 0h1m5 0h5m1 0h1m1 0h4m1 0h1m1 0h2m1 0h2m2 0h2M324 148.5h2m1 0h1m2 0h6m1 0h6m6 0h5m3 0h1m6 0h2m3 0h2m4 0h2M330 149.5h1m5 0h1m3 0h4m5 0h4m9 0h1m2 0h1m1 0h2m3 0h1m2 0h2M327 150.5h4m11 0h1m2 0h15m1 0h2m7 0h10M324 151.5h2m1 0h6m1 0h1m3 0h6m3 0h4m13 0h1m3 0h3m3 0h6M324 152.5h8m1 0h9m11 0h1m9 0h2m2 0h1m9 0h3M324 153.5h15m14 0h6m8 0h5m7 0h1M324 154.5h5m1 0h8m1 0h2m1 0h1m1 0h1m2 0h8m1 0h6m6 0h1m5 0h4m1 0h1M333 155.5h15m1 0h1m2 0h4m1 0h3m14 0h1M324 156.5h9m7 0h13m8 0h18M332 157.5h1m1 0h8m1 0h6m3 0h2m1 0h3m4 0h1m1 0h2m3 0h9M324 158.5h3m9 0h1m1 0h2m7 0h8m5 0h1m1 0h3m4 0h6m1 0h2m1 0h1M324 159.5h6m4 0h2m14 0h9m1 0h11m2 0h1m1 0h4M324 160.5h1m1 0h1m1 0h3m1 0h1m7 0h11m12 0h1m1 0h9m2 0h2M326 161.5h1m10 0h9m12 0h7m2 0h1m1 0h6m4 0h1M324 162.5h3m1 0h1m1 0h1m13 0h6m1 0h1m6 0h2m1 0h6m4 0h2m6 0h1M324 163.5h2m1 0h2m6 0h9m5 0h2m15 0h3m1 0h1m1 0h1M325 164.5h1m3 0h5m2 0h10m12 0h2m8 0h5M337 165.5h10m8 0h1m5 0h6m6 0h2M327 166.5h2m11 0h2m1 0h1m3 0h5m1 0h1m1 0h1m3 0h1m4 0h6m1 0h8M327 167.5h1m4 0h5m2 0h1m3 0h5m1 0h8m6 0h1m1 0h5m1 0h1m7 0h1M327 168.5h3m9 0h1m1 0h2m1 0h4m8 0h6m4 0h2m1 0h4m1 0h2M346 169.5h3m2 0h1m2 0h1m4 0h3m8 0h8m1 0h1M337 170.5h4m21 0h2m1 0h4m4 0h1m3 0h1m1 0h1M324 171.5h2m1 0h1m2 0h1m13 0h2m10 0h3m7 0h3m1 0h10M342 172.5h2m1 0h3m5 0h5m8 0h9m2 0h3M324 173.5h3m11 0h1m1 0h3m1 0h5m7 0h1m10 0h2m1 0h1M326 174.5h4m2 0h1m3 0h1m1 0h11m7 0h1m7 0h1m5 0h1m1 0h1m4 0h3M324 175.5h2m13 0h5m1 0h5m1 0h1m1 0h2m3 0h1m10 0h4m1 0h3M328 176.5h3m1 0h2m4 0h3m1 0h2m1 0h3m3 0h2m1 0h2M327 177.5h9m7 0h1m1 0h5m2 0h1m1 0h6m6 0h1m2 0h3m3 0h2M326 178.5h1m6 0h6m3 0h5m1 0h2m3 0h1m11 0h5m3 0h7M324 179.5h4m4 0h3m1 0h3m1 0h10m3 0h2m1 0h4m1 0h2m1 0h2m1 0h6M325 180.5h2m4 0h1m2 0h6m5 0h1m1 0h4m1 0h1m1 0h1m1 0h1m1 0h8m1 0h1M324 181.5h3m1 0h1m3 0h3m2 0h1m22 0h1m4 0h6M330 182.5h1m2 0h6m1 0h10m1 0h1m4 0h9m5 0h1m1 0h1m1 0h2m1 0h3M324 183.5h2m3 0h3m1 0h1m5 0h8m4 0h3m2 0h2m2 0h3m9 0h1m2 0h3M324 184.5h2m5 0h2m16 0h1m1 0h3m8 0h1m8 0h1m1 0h2" stroke="#000" stroke-width="1" fill="none" shape-rendering="crispEdges" filter="url(#rblur)"/>
<rect x="48.5" y="28.5" width="57" height="157" fill="none" stroke="#000" stroke-width="1.0"/>
<line x1="48.5" y1="185.5" x2="48.5" y2="189.7" stroke="#000" stroke-width="0.9" />
<line x1="84" y1="185.5" x2="84" y2="189.7" stroke="#000" stroke-width="0.9" />
<line x1="44.3" y1="28.5" x2="48.5" y2="28.5" stroke="#000" stroke-width="0.9" />
<text x="39.2" y="32.68" font-size="10.0" text-anchor="end" fill="#000">0</text>
<line x1="44.3" y1="54.5" x2="48.5" y2="54.5" stroke="#000" stroke-width="0.9" />
<text x="39.2" y="58.68" font-size="10.0" text-anchor="end" fill="#000">40</text>
<line x1="44.3" y1="80.5" x2="48.5" y2="80.5" stroke="#000" stroke-width="0.9" />
<text x="39.2" y="84.68" font-size="10.0" text-anchor="end" fill="#000">80</text>
<line x1="44.3" y1="107.5" x2="48.5" y2="107.5" stroke="#000" stroke-width="0.9" />
<text x="39.2" y="111.68" font-size="10.0" text-anchor="end" fill="#000">120</text>
<line x1="44.3" y1="133.5" x2="48.5" y2="133.5" stroke="#000" stroke-width="0.9" />
<text x="39.2" y="137.68" font-size="10.0" text-anchor="end" fill="#000">160</text>
<line x1="44.3" y1="159.5" x2="48.5" y2="159.5" stroke="#000" stroke-width="0.9" />
<text x="39.2" y="163.68" font-size="10.0" text-anchor="end" fill="#000">200</text>
<line x1="44.3" y1="185.5" x2="48.5" y2="185.5" stroke="#000" stroke-width="0.9" />
<text x="39.2" y="189.68" font-size="10.0" text-anchor="end" fill="#000">240</text>
<rect x="131.5" y="28.5" width="57" height="157" fill="none" stroke="#000" stroke-width="1.0"/>
<line x1="131.5" y1="185.5" x2="131.5" y2="189.7" stroke="#000" stroke-width="0.9" />
<line x1="167" y1="185.5" x2="167" y2="189.7" stroke="#000" stroke-width="0.9" />
<line x1="127.3" y1="28.5" x2="131.5" y2="28.5" stroke="#000" stroke-width="0.9" />
<line x1="127.3" y1="54.5" x2="131.5" y2="54.5" stroke="#000" stroke-width="0.9" />
<line x1="127.3" y1="80.5" x2="131.5" y2="80.5" stroke="#000" stroke-width="0.9" />
<line x1="127.3" y1="107.5" x2="131.5" y2="107.5" stroke="#000" stroke-width="0.9" />
<line x1="127.3" y1="133.5" x2="131.5" y2="133.5" stroke="#000" stroke-width="0.9" />
<line x1="127.3" y1="159.5" x2="131.5" y2="159.5" stroke="#000" stroke-width="0.9" />
<line x1="127.3" y1="185.5" x2="131.5" y2="185.5" stroke="#000" stroke-width="0.9" />
<rect x="239.5" y="28.5" width="57" height="157" fill="none" stroke="#000" stroke-width="1.0"/>
<line x1="239.5" y1="185.5" x2="239.5" y2="189.7" stroke="#000" stroke-width="0.9" />
<line x1="275" y1="185.5" x2="275" y2="189.7" stroke="#000" stroke-width="0.9" />
<line x1="235.3" y1="28.5" x2="239.5" y2="28.5" stroke="#000" stroke-width="0.9" />
<text x="230.2" y="32.68" font-size="10.0" text-anchor="end" fill="#000">0</text>
<line x1="235.3" y1="54.5" x2="239.5" y2="54.5" stroke="#000" stroke-width="0.9" />
<text x="230.2" y="58.68" font-size="10.0" text-anchor="end" fill="#000">40</text>
<line x1="235.3" y1="80.5" x2="239.5" y2="80.5" stroke="#000" stroke-width="0.9" />
<text x="230.2" y="84.68" font-size="10.0" text-anchor="end" fill="#000">80</text>
<line x1="235.3" y1="107.5" x2="239.5" y2="107.5" stroke="#000" stroke-width="0.9" />
<text x="230.2" y="111.68" font-size="10.0" text-anchor="end" fill="#000">120</text>
<line x1="235.3" y1="133.5" x2="239.5" y2="133.5" stroke="#000" stroke-width="0.9" />
<text x="230.2" y="137.68" font-size="10.0" text-anchor="end" fill="#000">160</text>
<line x1="235.3" y1="159.5" x2="239.5" y2="159.5" stroke="#000" stroke-width="0.9" />
<text x="230.2" y="163.68" font-size="10.0" text-anchor="end" fill="#000">200</text>
<line x1="235.3" y1="185.5" x2="239.5" y2="185.5" stroke="#000" stroke-width="0.9" />
<text x="230.2" y="189.68" font-size="10.0" text-anchor="end" fill="#000">240</text>
<rect x="323.5" y="28.5" width="57" height="157" fill="none" stroke="#000" stroke-width="1.0"/>
<line x1="323.5" y1="185.5" x2="323.5" y2="189.7" stroke="#000" stroke-width="0.9" />
<line x1="359" y1="185.5" x2="359" y2="189.7" stroke="#000" stroke-width="0.9" />
<line x1="319.3" y1="28.5" x2="323.5" y2="28.5" stroke="#000" stroke-width="0.9" />
<line x1="319.3" y1="54.5" x2="323.5" y2="54.5" stroke="#000" stroke-width="0.9" />
<line x1="319.3" y1="80.5" x2="323.5" y2="80.5" stroke="#000" stroke-width="0.9" />
<line x1="319.3" y1="107.5" x2="323.5" y2="107.5" stroke="#000" stroke-width="0.9" />
<line x1="319.3" y1="133.5" x2="323.5" y2="133.5" stroke="#000" stroke-width="0.9" />
<line x1="319.3" y1="159.5" x2="323.5" y2="159.5" stroke="#000" stroke-width="0.9" />
<line x1="319.3" y1="185.5" x2="323.5" y2="185.5" stroke="#000" stroke-width="0.9" />
<text x="77" y="9.6" font-size="12.5" text-anchor="middle" fill="#1f77b4">Y19_S1</text>
<text x="77" y="24.8" font-size="12.5" text-anchor="middle" fill="#1f77b4">c. 740</text>
<text x="160" y="9.6" font-size="12.5" text-anchor="middle" fill="#1f77b4">Y18_S1</text>
<text x="160" y="24.8" font-size="12.5" text-anchor="middle" fill="#1f77b4">c. 398</text>
<text x="268" y="9.6" font-size="12.5" text-anchor="middle" fill="#ff7f0e">A13_S6</text>
<text x="268" y="24.8" font-size="12.5" text-anchor="middle" fill="#ff7f0e">c. 210</text>
<text x="352" y="9.6" font-size="12.5" text-anchor="middle" fill="#ff7f0e">A12_S3</text>
<text x="352" y="24.8" font-size="12.5" text-anchor="middle" fill="#ff7f0e">c. 366</text>
<text x="19.3" y="106.5" font-size="11.5" text-anchor="middle" fill="#000" transform="rotate(-90 19.3 106.5)">Trials (n)</text>
<text x="210.8" y="106.5" font-size="11.5" text-anchor="middle" fill="#000" transform="rotate(-90 210.8 106.5)">Trials (n)</text>
<path d="M50.7 225.5 C50.98 225.73 51.68 227.88 52.4 226.9 C53.12 225.92 54.03 222.72 55 219.6 C55.97 216.48 57.22 208.57 58.2 208.2 C59.18 207.83 59.53 217.68 60.9 217.4 C62.27 217.12 64.82 204.67 66.4 206.5 C67.98 208.33 69.08 226.5 70.4 228.4 C71.72 230.3 73.08 218.02 74.3 217.9 C75.52 217.78 76.28 231.07 77.7 227.7 C79.12 224.33 81.27 197.7 82.8 197.7 C84.33 197.7 85.45 225.75 86.9 227.7 C88.35 229.65 90.23 210.25 91.5 209.4 C92.77 208.55 93.57 221.38 94.5 222.6 C95.43 223.82 96.25 216.83 97.1 216.7 C97.95 216.57 98.7 220.47 99.6 221.8 C100.5 223.13 102.02 224.22 102.5 224.7" fill="none" stroke="#1f77b4" stroke-width="3.2" stroke-linejoin="round" stroke-opacity="0.2"/>
<path d="M50.7 225.5 C50.98 225.73 51.68 227.88 52.4 226.9 C53.12 225.92 54.03 222.72 55 219.6 C55.97 216.48 57.22 208.57 58.2 208.2 C59.18 207.83 59.53 217.68 60.9 217.4 C62.27 217.12 64.82 204.67 66.4 206.5 C67.98 208.33 69.08 226.5 70.4 228.4 C71.72 230.3 73.08 218.02 74.3 217.9 C75.52 217.78 76.28 231.07 77.7 227.7 C79.12 224.33 81.27 197.7 82.8 197.7 C84.33 197.7 85.45 225.75 86.9 227.7 C88.35 229.65 90.23 210.25 91.5 209.4 C92.77 208.55 93.57 221.38 94.5 222.6 C95.43 223.82 96.25 216.83 97.1 216.7 C97.95 216.57 98.7 220.47 99.6 221.8 C100.5 223.13 102.02 224.22 102.5 224.7" fill="none" stroke="#1f77b4" stroke-width="1.05" stroke-linejoin="round" />
<rect x="48.5" y="194.5" width="57" height="38" fill="none" stroke="#000" stroke-width="1.0"/>
<line x1="44.3" y1="195.5" x2="48.5" y2="195.5" stroke="#000" stroke-width="0.9" />
<text x="39.2" y="199.68" font-size="10.0" text-anchor="end" fill="#000">10</text>
<line x1="44.3" y1="218.5" x2="48.5" y2="218.5" stroke="#000" stroke-width="0.9" />
<text x="39.2" y="222.68" font-size="10.0" text-anchor="end" fill="#000">5</text>
<line x1="51.5" y1="232.5" x2="51.5" y2="236.7" stroke="#000" stroke-width="0.9" />
<text x="51.5" y="249" font-size="10.0" text-anchor="middle" fill="#000">0</text>
<line x1="77.5" y1="232.5" x2="77.5" y2="236.7" stroke="#000" stroke-width="0.9" />
<text x="77.5" y="249" font-size="10.0" text-anchor="middle" fill="#000">200</text>
<line x1="102.5" y1="232.5" x2="102.5" y2="236.7" stroke="#000" stroke-width="0.9" />
<text x="102.5" y="249" font-size="10.0" text-anchor="middle" fill="#000">400</text>
<path d="M134.3 227.3 C134.55 226.22 135.32 221.28 135.8 220.8 C136.28 220.32 136.6 223.92 137.2 224.4 C137.8 224.88 138.55 223.08 139.4 223.7 C140.25 224.32 141.32 227.5 142.3 228.1 C143.28 228.7 144.45 227.67 145.3 227.3 C146.15 226.93 146.68 225.65 147.4 225.9 C148.12 226.15 148.87 228.03 149.6 228.8 C150.33 229.57 151.07 230.75 151.8 230.5 C152.53 230.25 153.27 229.9 154 227.3 C154.73 224.7 155.47 216.12 156.2 214.9 C156.93 213.68 157.78 217.8 158.4 220 C159.02 222.2 159.3 227.12 159.9 228.1 C160.5 229.08 161.28 225.78 162 225.9 C162.72 226.02 163.38 229.78 164.2 228.8 C165.02 227.82 166.05 220.85 166.9 220 C167.75 219.15 168.28 222.48 169.3 223.7 C170.32 224.92 172.1 226.93 173 227.3 C173.9 227.67 173.97 230.88 174.7 225.9 C175.43 220.92 176.47 198.38 177.4 197.4 C178.33 196.42 179.33 214.88 180.3 220 C181.27 225.12 182.35 226.27 183.2 228.1 C184.05 229.93 184.87 231 185.4 231 C185.93 231 186.23 228.58 186.4 228.1" fill="none" stroke="#1f77b4" stroke-width="3.2" stroke-linejoin="round" stroke-opacity="0.2"/>
<path d="M134.3 227.3 C134.55 226.22 135.32 221.28 135.8 220.8 C136.28 220.32 136.6 223.92 137.2 224.4 C137.8 224.88 138.55 223.08 139.4 223.7 C140.25 224.32 141.32 227.5 142.3 228.1 C143.28 228.7 144.45 227.67 145.3 227.3 C146.15 226.93 146.68 225.65 147.4 225.9 C148.12 226.15 148.87 228.03 149.6 228.8 C150.33 229.57 151.07 230.75 151.8 230.5 C152.53 230.25 153.27 229.9 154 227.3 C154.73 224.7 155.47 216.12 156.2 214.9 C156.93 213.68 157.78 217.8 158.4 220 C159.02 222.2 159.3 227.12 159.9 228.1 C160.5 229.08 161.28 225.78 162 225.9 C162.72 226.02 163.38 229.78 164.2 228.8 C165.02 227.82 166.05 220.85 166.9 220 C167.75 219.15 168.28 222.48 169.3 223.7 C170.32 224.92 172.1 226.93 173 227.3 C173.9 227.67 173.97 230.88 174.7 225.9 C175.43 220.92 176.47 198.38 177.4 197.4 C178.33 196.42 179.33 214.88 180.3 220 C181.27 225.12 182.35 226.27 183.2 228.1 C184.05 229.93 184.87 231 185.4 231 C185.93 231 186.23 228.58 186.4 228.1" fill="none" stroke="#1f77b4" stroke-width="1.05" stroke-linejoin="round" />
<rect x="131.5" y="194.5" width="57" height="38" fill="none" stroke="#000" stroke-width="1.0"/>
<line x1="127.3" y1="203.5" x2="131.5" y2="203.5" stroke="#000" stroke-width="0.9" />
<text x="122.2" y="207.68" font-size="10.0" text-anchor="end" fill="#000">15</text>
<line x1="127.3" y1="213.5" x2="131.5" y2="213.5" stroke="#000" stroke-width="0.9" />
<text x="122.2" y="217.68" font-size="10.0" text-anchor="end" fill="#000">10</text>
<line x1="127.3" y1="224.5" x2="131.5" y2="224.5" stroke="#000" stroke-width="0.9" />
<text x="122.2" y="228.68" font-size="10.0" text-anchor="end" fill="#000">5</text>
<line x1="134.5" y1="232.5" x2="134.5" y2="236.7" stroke="#000" stroke-width="0.9" />
<text x="134.5" y="249" font-size="10.0" text-anchor="middle" fill="#000">0</text>
<line x1="160.5" y1="232.5" x2="160.5" y2="236.7" stroke="#000" stroke-width="0.9" />
<text x="160.5" y="249" font-size="10.0" text-anchor="middle" fill="#000">200</text>
<line x1="185.5" y1="232.5" x2="185.5" y2="236.7" stroke="#000" stroke-width="0.9" />
<text x="185.5" y="249" font-size="10.0" text-anchor="middle" fill="#000">400</text>
<path d="M241.7 218.5 C241.92 217.78 242.58 215.13 243 214.2 C243.42 213.27 243.78 212.8 244.2 212.9 C244.62 213 244.98 216.35 245.5 214.8 C246.02 213.25 246.75 205.78 247.3 203.6 C247.85 201.42 248.38 201.7 248.8 201.7 C249.22 201.7 249.32 201.63 249.8 203.6 C250.28 205.57 250.97 210.02 251.7 213.5 C252.43 216.98 253.48 223.47 254.2 224.5 C254.92 225.53 255.45 221.73 256 219.7 C256.55 217.67 256.98 214.88 257.5 212.3 C258.02 209.72 258.62 204.62 259.1 204.2 C259.58 203.78 259.92 207.93 260.4 209.8 C260.88 211.67 261.48 215.18 262 215.4 C262.52 215.62 262.95 211.25 263.5 211.1 C264.05 210.95 264.68 215.23 265.3 214.5 C265.92 213.77 266.52 206.23 267.2 206.7 C267.88 207.17 268.73 214.82 269.4 217.3 C270.07 219.78 270.63 222.48 271.2 221.6 C271.77 220.72 272.23 212.52 272.8 212 C273.37 211.48 274.05 217 274.6 218.5 C275.15 220 275.58 220.8 276.1 221 C276.62 221.2 277.02 219.08 277.7 219.7 C278.38 220.32 279.37 225.42 280.2 224.7 C281.03 223.98 282.02 215.92 282.7 215.4 C283.38 214.88 283.68 220.57 284.3 221.6 C284.92 222.63 285.7 222.95 286.4 221.6 C287.1 220.25 287.77 213.08 288.5 213.5 C289.23 213.92 290.12 222.55 290.8 224.1 C291.48 225.65 292.13 223.42 292.6 222.8 C293.07 222.18 293.43 220.8 293.6 220.4" fill="none" stroke="#ff7f0e" stroke-width="5.0" stroke-linejoin="round" stroke-opacity="0.2"/>
<path d="M241.7 218.5 C241.92 217.78 242.58 215.13 243 214.2 C243.42 213.27 243.78 212.8 244.2 212.9 C244.62 213 244.98 216.35 245.5 214.8 C246.02 213.25 246.75 205.78 247.3 203.6 C247.85 201.42 248.38 201.7 248.8 201.7 C249.22 201.7 249.32 201.63 249.8 203.6 C250.28 205.57 250.97 210.02 251.7 213.5 C252.43 216.98 253.48 223.47 254.2 224.5 C254.92 225.53 255.45 221.73 256 219.7 C256.55 217.67 256.98 214.88 257.5 212.3 C258.02 209.72 258.62 204.62 259.1 204.2 C259.58 203.78 259.92 207.93 260.4 209.8 C260.88 211.67 261.48 215.18 262 215.4 C262.52 215.62 262.95 211.25 263.5 211.1 C264.05 210.95 264.68 215.23 265.3 214.5 C265.92 213.77 266.52 206.23 267.2 206.7 C267.88 207.17 268.73 214.82 269.4 217.3 C270.07 219.78 270.63 222.48 271.2 221.6 C271.77 220.72 272.23 212.52 272.8 212 C273.37 211.48 274.05 217 274.6 218.5 C275.15 220 275.58 220.8 276.1 221 C276.62 221.2 277.02 219.08 277.7 219.7 C278.38 220.32 279.37 225.42 280.2 224.7 C281.03 223.98 282.02 215.92 282.7 215.4 C283.38 214.88 283.68 220.57 284.3 221.6 C284.92 222.63 285.7 222.95 286.4 221.6 C287.1 220.25 287.77 213.08 288.5 213.5 C289.23 213.92 290.12 222.55 290.8 224.1 C291.48 225.65 292.13 223.42 292.6 222.8 C293.07 222.18 293.43 220.8 293.6 220.4" fill="none" stroke="#ff7f0e" stroke-width="1.05" stroke-linejoin="round" />
<rect x="239.5" y="194.5" width="57" height="38" fill="none" stroke="#000" stroke-width="1.0"/>
<line x1="235.3" y1="198.5" x2="239.5" y2="198.5" stroke="#000" stroke-width="0.9" />
<text x="230.2" y="202.68" font-size="10.0" text-anchor="end" fill="#000">7.5</text>
<line x1="235.3" y1="223.5" x2="239.5" y2="223.5" stroke="#000" stroke-width="0.9" />
<text x="230.2" y="227.68" font-size="10.0" text-anchor="end" fill="#000">5.0</text>
<line x1="242.5" y1="232.5" x2="242.5" y2="236.7" stroke="#000" stroke-width="0.9" />
<text x="242.5" y="249" font-size="10.0" text-anchor="middle" fill="#000">0</text>
<line x1="268.5" y1="232.5" x2="268.5" y2="236.7" stroke="#000" stroke-width="0.9" />
<text x="268.5" y="249" font-size="10.0" text-anchor="middle" fill="#000">200</text>
<line x1="293.5" y1="232.5" x2="293.5" y2="236.7" stroke="#000" stroke-width="0.9" />
<text x="293.5" y="249" font-size="10.0" text-anchor="middle" fill="#000">400</text>
<path d="M325.4 226.6 C325.62 226.8 326.18 229.35 326.7 227.8 C327.22 226.25 327.73 221.33 328.5 217.3 C329.27 213.27 330.47 203.4 331.3 203.6 C332.13 203.8 332.82 214.88 333.5 218.5 C334.18 222.12 334.78 224.37 335.4 225.3 C336.02 226.23 336.52 226.07 337.2 224.1 C337.88 222.13 338.77 217.43 339.5 213.5 C340.23 209.57 341.05 202.35 341.6 200.5 C342.15 198.65 342.25 200.02 342.8 202.4 C343.35 204.78 344.18 212.43 344.9 214.8 C345.62 217.17 346.45 215.67 347.1 216.6 C347.75 217.53 348.28 220.92 348.8 220.4 C349.32 219.88 349.65 214.95 350.2 213.5 C350.75 212.05 351.37 210.35 352.1 211.7 C352.83 213.05 353.82 218.92 354.6 221.6 C355.38 224.28 356.08 227.28 356.8 227.8 C357.52 228.32 358.13 225.83 358.9 224.7 C359.67 223.57 360.47 223.27 361.4 221 C362.33 218.73 363.67 211.93 364.5 211.1 C365.33 210.27 365.82 214.97 366.4 216 C366.98 217.03 367.38 218.43 368 217.3 C368.62 216.17 369.43 210.75 370.1 209.2 C370.77 207.65 371.38 208.52 372 208 C372.62 207.48 373.18 204.67 373.8 206.1 C374.42 207.53 375.08 213.4 375.7 216.6 C376.32 219.8 377.2 223.85 377.5 225.3" fill="none" stroke="#ff7f0e" stroke-width="5.0" stroke-linejoin="round" stroke-opacity="0.2"/>
<path d="M325.4 226.6 C325.62 226.8 326.18 229.35 326.7 227.8 C327.22 226.25 327.73 221.33 328.5 217.3 C329.27 213.27 330.47 203.4 331.3 203.6 C332.13 203.8 332.82 214.88 333.5 218.5 C334.18 222.12 334.78 224.37 335.4 225.3 C336.02 226.23 336.52 226.07 337.2 224.1 C337.88 222.13 338.77 217.43 339.5 213.5 C340.23 209.57 341.05 202.35 341.6 200.5 C342.15 198.65 342.25 200.02 342.8 202.4 C343.35 204.78 344.18 212.43 344.9 214.8 C345.62 217.17 346.45 215.67 347.1 216.6 C347.75 217.53 348.28 220.92 348.8 220.4 C349.32 219.88 349.65 214.95 350.2 213.5 C350.75 212.05 351.37 210.35 352.1 211.7 C352.83 213.05 353.82 218.92 354.6 221.6 C355.38 224.28 356.08 227.28 356.8 227.8 C357.52 228.32 358.13 225.83 358.9 224.7 C359.67 223.57 360.47 223.27 361.4 221 C362.33 218.73 363.67 211.93 364.5 211.1 C365.33 210.27 365.82 214.97 366.4 216 C366.98 217.03 367.38 218.43 368 217.3 C368.62 216.17 369.43 210.75 370.1 209.2 C370.77 207.65 371.38 208.52 372 208 C372.62 207.48 373.18 204.67 373.8 206.1 C374.42 207.53 375.08 213.4 375.7 216.6 C376.32 219.8 377.2 223.85 377.5 225.3" fill="none" stroke="#ff7f0e" stroke-width="1.05" stroke-linejoin="round" />
<rect x="323.5" y="194.5" width="57" height="38" fill="none" stroke="#000" stroke-width="1.0"/>
<line x1="319.3" y1="203.5" x2="323.5" y2="203.5" stroke="#000" stroke-width="0.9" />
<text x="314.2" y="207.68" font-size="10.0" text-anchor="end" fill="#000">5.0</text>
<line x1="319.3" y1="226.5" x2="323.5" y2="226.5" stroke="#000" stroke-width="0.9" />
<text x="314.2" y="230.68" font-size="10.0" text-anchor="end" fill="#000">2.5</text>
<line x1="326.5" y1="232.5" x2="326.5" y2="236.7" stroke="#000" stroke-width="0.9" />
<text x="326.5" y="249" font-size="10.0" text-anchor="middle" fill="#000">0</text>
<line x1="352.5" y1="232.5" x2="352.5" y2="236.7" stroke="#000" stroke-width="0.9" />
<text x="352.5" y="249" font-size="10.0" text-anchor="middle" fill="#000">200</text>
<line x1="377.5" y1="232.5" x2="377.5" y2="236.7" stroke="#000" stroke-width="0.9" />
<text x="377.5" y="249" font-size="10.0" text-anchor="middle" fill="#000">400</text>
<text x="19.3" y="213" font-size="11.5" text-anchor="middle" fill="#000" transform="rotate(-90 19.3 213)">FR (Hz)</text>
<text x="210.8" y="213" font-size="11.5" text-anchor="middle" fill="#000" transform="rotate(-90 210.8 213)">FR (Hz)</text>
<text x="118.5" y="261" font-size="11.5" text-anchor="middle" fill="#000">VR Position (cm)</text>
<text x="309" y="261" font-size="11.5" text-anchor="middle" fill="#000">VR Position (cm)</text>
<text x="-0.5" y="10.7" font-size="14.3" text-anchor="start" fill="#000" font-weight="bold">a</text>
<path d="M448.5 97.8 L449.62 95.61 L450.73 95.37 L451.85 92.57 L452.97 90.94 L454.08 90.13 L455.2 88.3 L456.43 84.97 L457.67 84.49 L458.9 80.8 L460.17 76.1 L461.43 74.04 L462.7 69.4 L463.97 64.31 L465.23 61.21 L466.5 56.1 L467.77 52.32 L469.03 50.45 L470.3 49.5 L471.65 48.42 L473 46 L474 43.61 L475 44.8 L476 43.5 L477.25 43.44 L478.5 46 L479.6 49.74 L480.7 50.5 L482.15 52.3 L483.6 56.1 L484.83 60.93 L486.07 63.56 L487.3 69.4 L488.57 73.22 L489.83 76.71 L491.1 78.9 L492.24 79.54 L493.38 83.91 L494.52 83.4 L495.66 87.5 L496.8 88.3 L497.89 89.23 L498.97 89.83 L500.06 91.43 L501.14 93.4 L502.23 93.83 L503.31 95.38 L504.4 96.9 L505.67 97.87 L506.93 98.54 L508.2 98.8 L509.47 98.85 L510.73 99.05 L512 99.3" fill="none" stroke="#8a8a8a" stroke-width="1.2" stroke-linejoin="round" />
<path d="M472.2 99.2 L473.34 97.91 L474.48 96.9 L475.62 96.83 L476.76 94.77 L477.9 94 L478.99 93.9 L480.07 91.36 L481.16 91.9 L482.24 88.48 L483.33 87.26 L484.41 88.13 L485.5 86.4 L486.62 83.85 L487.74 82.02 L488.86 84.51 L489.98 79.39 L491.1 79.8 L492.24 79.16 L493.38 74.98 L494.52 77.95 L495.66 73.26 L496.8 73.2 L497.94 73.3 L499.08 71.48 L500.22 70.3 L501.36 68.56 L502.5 65.6 L503.64 62.95 L504.78 63.46 L505.92 60.49 L507.06 60.88 L508.2 58 L509.34 57.82 L510.48 51.13 L511.62 53.17 L512.76 48.1 L513.9 46.7 L515.08 44.93 L516.25 40.8 L517.42 40.98 L518.6 36.3 L519.9 33.5 L521.4 39.1 L523.3 61.8 L524.8 99.3" fill="none" stroke="#000" stroke-width="1.2" stroke-linejoin="round" />
<rect x="448.5" y="11.5" width="89" height="88" fill="none" stroke="#000" stroke-width="1.0"/>
<rect x="536" y="11" width="2" height="89" fill="#fff"/>
<line x1="536.95" y1="11" x2="536.95" y2="100" stroke="#222" stroke-width="1.25" />
<line x1="444.3" y1="11.5" x2="448.5" y2="11.5" stroke="#000" stroke-width="0.9" />
<text x="439.2" y="15.68" font-size="10.0" text-anchor="end" fill="#000">0.04</text>
<line x1="444.3" y1="55.5" x2="448.5" y2="55.5" stroke="#000" stroke-width="0.9" />
<text x="439.2" y="59.68" font-size="10.0" text-anchor="end" fill="#000">0.02</text>
<line x1="444.3" y1="99.5" x2="448.5" y2="99.5" stroke="#000" stroke-width="0.9" />
<text x="439.2" y="103.68" font-size="10.0" text-anchor="end" fill="#000">0.00</text>
<line x1="460.5" y1="99.5" x2="460.5" y2="103.7" stroke="#000" stroke-width="0.9" />
<text x="460.5" y="116" font-size="10.0" text-anchor="middle" fill="#000">0.0</text>
<line x1="492.5" y1="99.5" x2="492.5" y2="103.7" stroke="#000" stroke-width="0.9" />
<text x="492.5" y="116" font-size="10.0" text-anchor="middle" fill="#000">0.5</text>
<line x1="524.5" y1="99.5" x2="524.5" y2="103.7" stroke="#000" stroke-width="0.9" />
<text x="524.5" y="116" font-size="10.0" text-anchor="middle" fill="#000">1.0</text>
<text x="492.75" y="128" font-size="11.5" text-anchor="middle" fill="#000">Coherence</text>
<text x="411.3" y="55.5" font-size="11.5" text-anchor="middle" fill="#000" transform="rotate(-90 411.3 55.5)">Probability</text>
<text x="453.3" y="23.6" font-size="10.3" text-anchor="start" fill="#000">Spatial</text>
<text x="453.3" y="35.5" font-size="10.3" text-anchor="start" fill="#8a8a8a">Shuffle</text>
<text x="392.5" y="10.5" font-size="14.3" text-anchor="start" fill="#000" font-weight="bold">b</text>
<path d="M456.1 232.8 L459.8 230.9 L462.1 221.6 L463 204 L463.9 223.5 L466.3 227.2 L468.7 221.6 L471 198.4 L472.5 221.6 L474.7 219.8 L476.9 205.3 L478 217.9 L479.3 207.7 L480.6 221.6 L482.1 214.2 L483.4 181.2 L484.7 214.2 L486.7 201.2 L488.2 177.1 L489.5 156.3 L490.8 179 L492.3 163.2 L493.6 195.7 L494.7 188.2 L496 212.4 L497.3 201.2 L498.8 187.3 L499.9 210.5 L501.6 225.3 L504 231.8 L508.1 232.8" fill="none" stroke="#8a8a8a" stroke-width="1.1" stroke-linejoin="round" />
<path d="M457.1 232.8 L458.25 231.66 L459.4 230.16 L460.55 228.23 L461.7 227.2 L463.6 217.9 L465.4 225.3 L466.63 225.31 L467.87 225.37 L469.1 226.3 L470.5 223.33 L471.9 221.6 L473.3 220.82 L474.7 217.9 L476.1 220.88 L477.5 222.6 L478.73 222.79 L479.97 219.88 L481.2 219.8 L482.43 219.25 L483.67 215.62 L484.9 214.2 L486.13 210.82 L487.37 203.99 L488.6 201.2 L490 196.26 L491.4 190.1 L492.8 188.51 L494.2 189.2 L495.6 189.99 L497 192.9 L498.35 195.81 L499.7 195.7 L501.6 206.8 L503 210.26 L504.4 216.1 L505.63 218.45 L506.87 218.71 L508.1 221.6 L509.2 223.19 L510.3 223.11 L511.4 225.42 L512.5 225.85 L513.6 226.3 L514.72 226.45 L515.84 226.48 L516.96 227.03 L518.08 228.13 L519.2 228.1 L520.26 228.85 L521.31 228.09 L522.37 228.77 L523.43 230.02 L524.49 229.5 L525.54 229.61 L526.6 230.5 L527.62 230.77 L528.64 230.4 L529.66 231.19 L530.68 230.66 L531.7 231.5 L532.72 230.96 L533.74 231.66 L534.76 231.26 L535.78 231.93 L536.8 231.8" fill="none" stroke="#000" stroke-width="1.2" stroke-linejoin="round" />
<rect x="448.5" y="145.5" width="89" height="88" fill="none" stroke="#000" stroke-width="1.0"/>
<rect x="536" y="145" width="2" height="89" fill="#fff"/>
<line x1="536.95" y1="145" x2="536.95" y2="234" stroke="#222" stroke-width="1.25" />
<line x1="444.3" y1="145.5" x2="448.5" y2="145.5" stroke="#000" stroke-width="0.9" />
<text x="439.2" y="149.68" font-size="10.0" text-anchor="end" fill="#000">0.06</text>
<line x1="444.3" y1="189.5" x2="448.5" y2="189.5" stroke="#000" stroke-width="0.9" />
<text x="439.2" y="193.68" font-size="10.0" text-anchor="end" fill="#000">0.03</text>
<line x1="444.3" y1="233.5" x2="448.5" y2="233.5" stroke="#000" stroke-width="0.9" />
<text x="439.2" y="237.68" font-size="10.0" text-anchor="end" fill="#000">0.00</text>
<line x1="466.5" y1="233.5" x2="466.5" y2="237.7" stroke="#000" stroke-width="0.9" />
<text x="466.5" y="249.5" font-size="10.0" text-anchor="middle" fill="#000">0.5</text>
<line x1="501.5" y1="233.5" x2="501.5" y2="237.7" stroke="#000" stroke-width="0.9" />
<text x="501.5" y="249.5" font-size="10.0" text-anchor="middle" fill="#000">1.0</text>
<line x1="537.5" y1="233.5" x2="537.5" y2="237.7" stroke="#000" stroke-width="0.9" />
<text x="537.5" y="249.5" font-size="10.0" text-anchor="middle" fill="#000">1.5</text>
<text x="492.75" y="261.5" font-size="11.5" text-anchor="middle" fill="#000">Sparsity</text>
<text x="411.3" y="189.3" font-size="11.5" text-anchor="middle" fill="#000" transform="rotate(-90 411.3 189.3)">Probability</text>
<text x="453.3" y="158.1" font-size="10.3" text-anchor="start" fill="#000">Spatial</text>
<text x="453.3" y="170" font-size="10.3" text-anchor="start" fill="#8a8a8a">Shuffle</text>
<text x="392.5" y="143" font-size="14.3" text-anchor="start" fill="#000" font-weight="bold">c</text>
<circle cx="618.56" cy="70.18" r="2.7" fill="#1f6fb2" fill-opacity="0.85" stroke="none" stroke-width="1.0"/>
<circle cx="616.84" cy="94.74" r="2.7" fill="#0b4f94" fill-opacity="0.85" stroke="none" stroke-width="1.0"/>
<circle cx="618.36" cy="73.54" r="2.7" fill="#b2d2e8" fill-opacity="0.85" stroke="none" stroke-width="1.0"/>
<circle cx="615.56" cy="95.52" r="2.7" fill="#1764ab" fill-opacity="0.85" stroke="none" stroke-width="1.0"/>
<circle cx="615.63" cy="76.28" r="2.7" fill="#1f6fb2" fill-opacity="0.85" stroke="none" stroke-width="1.0"/>
<circle cx="616.95" cy="52.8" r="2.7" fill="#1764ab" fill-opacity="0.85" stroke="none" stroke-width="1.0"/>
<circle cx="614.3" cy="59.34" r="2.7" fill="#86bcdc" fill-opacity="0.85" stroke="none" stroke-width="1.0"/>
<circle cx="617.94" cy="66.64" r="2.7" fill="#1f6fb2" fill-opacity="0.85" stroke="none" stroke-width="1.0"/>
<circle cx="619.01" cy="46.69" r="2.7" fill="#0b4f94" fill-opacity="0.85" stroke="none" stroke-width="1.0"/>
<circle cx="617.61" cy="63.08" r="2.7" fill="#1764ab" fill-opacity="0.85" stroke="none" stroke-width="1.0"/>
<circle cx="615.32" cy="47.1" r="2.7" fill="#2a7ab9" fill-opacity="0.85" stroke="none" stroke-width="1.0"/>
<circle cx="615.46" cy="40.5" r="2.7" fill="#5ba3d0" fill-opacity="0.85" stroke="none" stroke-width="1.0"/>
<circle cx="617.78" cy="77.12" r="2.7" fill="#b2d2e8" fill-opacity="0.85" stroke="none" stroke-width="1.0"/>
<circle cx="618.1" cy="47.74" r="2.7" fill="#2a7ab9" fill-opacity="0.85" stroke="none" stroke-width="1.0"/>
<circle cx="620.14" cy="62.6" r="2.7" fill="#3d8dc4" fill-opacity="0.85" stroke="none" stroke-width="1.0"/>
<circle cx="616.2" cy="60.7" r="2.7" fill="#5ba3d0" fill-opacity="0.85" stroke="none" stroke-width="1.0"/>
<circle cx="614.37" cy="31.69" r="2.7" fill="#5ba3d0" fill-opacity="0.85" stroke="none" stroke-width="1.0"/>
<circle cx="617.69" cy="70.88" r="2.7" fill="#0b4f94" fill-opacity="0.85" stroke="none" stroke-width="1.0"/>
<circle cx="615.35" cy="33.4" r="2.7" fill="#0b4f94" fill-opacity="0.85" stroke="none" stroke-width="1.0"/>
<circle cx="617.75" cy="79.72" r="2.7" fill="#2a7ab9" fill-opacity="0.85" stroke="none" stroke-width="1.0"/>
<circle cx="616.83" cy="46.28" r="2.7" fill="#3d8dc4" fill-opacity="0.85" stroke="none" stroke-width="1.0"/>
<circle cx="619.12" cy="89" r="2.7" fill="#1f6fb2" fill-opacity="0.85" stroke="none" stroke-width="1.0"/>
<circle cx="614.39" cy="67.55" r="2.7" fill="#86bcdc" fill-opacity="0.85" stroke="none" stroke-width="1.0"/>
<circle cx="619.26" cy="51.61" r="2.7" fill="#1764ab" fill-opacity="0.85" stroke="none" stroke-width="1.0"/>
<circle cx="617.9" cy="72.44" r="2.7" fill="#1764ab" fill-opacity="0.85" stroke="none" stroke-width="1.0"/>
<circle cx="620.21" cy="32.43" r="2.7" fill="#b2d2e8" fill-opacity="0.85" stroke="none" stroke-width="1.0"/>
<circle cx="619.52" cy="50.34" r="2.7" fill="#1764ab" fill-opacity="0.85" stroke="none" stroke-width="1.0"/>
<circle cx="614.36" cy="77.65" r="2.7" fill="#b2d2e8" fill-opacity="0.85" stroke="none" stroke-width="1.0"/>
<circle cx="620.29" cy="68.42" r="2.7" fill="#2a7ab9" fill-opacity="0.85" stroke="none" stroke-width="1.0"/>
<circle cx="618.79" cy="37.9" r="2.7" fill="#1f6fb2" fill-opacity="0.85" stroke="none" stroke-width="1.0"/>
<circle cx="615.36" cy="42.71" r="2.7" fill="#1f6fb2" fill-opacity="0.85" stroke="none" stroke-width="1.0"/>
<circle cx="616.39" cy="64.06" r="2.7" fill="#3d8dc4" fill-opacity="0.85" stroke="none" stroke-width="1.0"/>
<circle cx="659.23" cy="63.58" r="2.7" fill="#bf4416" fill-opacity="0.85" stroke="none" stroke-width="1.0"/>
<circle cx="663.81" cy="85.65" r="2.7" fill="#ea6f22" fill-opacity="0.85" stroke="none" stroke-width="1.0"/>
<circle cx="662.03" cy="34.56" r="2.7" fill="#ad3a12" fill-opacity="0.85" stroke="none" stroke-width="1.0"/>
<circle cx="660.68" cy="71.37" r="2.7" fill="#dd5c1b" fill-opacity="0.85" stroke="none" stroke-width="1.0"/>
<circle cx="661.23" cy="80.32" r="2.7" fill="#ea6f22" fill-opacity="0.85" stroke="none" stroke-width="1.0"/>
<circle cx="661.04" cy="83.62" r="2.7" fill="#9c3410" fill-opacity="0.85" stroke="none" stroke-width="1.0"/>
<circle cx="661.77" cy="59.87" r="2.7" fill="#cf4f18" fill-opacity="0.85" stroke="none" stroke-width="1.0"/>
<circle cx="661.85" cy="81.75" r="2.7" fill="#ea6f22" fill-opacity="0.85" stroke="none" stroke-width="1.0"/>
<circle cx="662.24" cy="65.13" r="2.7" fill="#f9ae74" fill-opacity="0.85" stroke="none" stroke-width="1.0"/>
<circle cx="663.85" cy="77.73" r="2.7" fill="#cf4f18" fill-opacity="0.85" stroke="none" stroke-width="1.0"/>
<circle cx="659.22" cy="56.46" r="2.7" fill="#9c3410" fill-opacity="0.85" stroke="none" stroke-width="1.0"/>
<circle cx="658.86" cy="70.7" r="2.7" fill="#ad3a12" fill-opacity="0.85" stroke="none" stroke-width="1.0"/>
<circle cx="663.03" cy="74.02" r="2.7" fill="#ea6f22" fill-opacity="0.85" stroke="none" stroke-width="1.0"/>
<circle cx="660.05" cy="60.8" r="2.7" fill="#f9ae74" fill-opacity="0.85" stroke="none" stroke-width="1.0"/>
<circle cx="664.42" cy="73.11" r="2.7" fill="#bf4416" fill-opacity="0.85" stroke="none" stroke-width="1.0"/>
<circle cx="664.45" cy="81.87" r="2.7" fill="#f9ae74" fill-opacity="0.85" stroke="none" stroke-width="1.0"/>
<circle cx="662.26" cy="74.98" r="2.7" fill="#cf4f18" fill-opacity="0.85" stroke="none" stroke-width="1.0"/>
<circle cx="659.83" cy="64.2" r="2.7" fill="#cf4f18" fill-opacity="0.85" stroke="none" stroke-width="1.0"/>
<circle cx="662.66" cy="74.58" r="2.7" fill="#ea6f22" fill-opacity="0.85" stroke="none" stroke-width="1.0"/>
<circle cx="661.42" cy="72.44" r="2.7" fill="#f58a38" fill-opacity="0.85" stroke="none" stroke-width="1.0"/>
<circle cx="660.71" cy="85.49" r="2.7" fill="#f58a38" fill-opacity="0.85" stroke="none" stroke-width="1.0"/>
<circle cx="663.7" cy="77.37" r="2.7" fill="#ea6f22" fill-opacity="0.85" stroke="none" stroke-width="1.0"/>
<circle cx="662.71" cy="50.59" r="2.7" fill="#f58a38" fill-opacity="0.85" stroke="none" stroke-width="1.0"/>
<circle cx="663.2" cy="80.2" r="2.7" fill="#bf4416" fill-opacity="0.85" stroke="none" stroke-width="1.0"/>
<circle cx="664.5" cy="38.81" r="2.7" fill="#9c3410" fill-opacity="0.85" stroke="none" stroke-width="1.0"/>
<circle cx="659.37" cy="83.56" r="2.7" fill="#ea6f22" fill-opacity="0.85" stroke="none" stroke-width="1.0"/>
<circle cx="660.66" cy="62.01" r="2.7" fill="#f9ae74" fill-opacity="0.85" stroke="none" stroke-width="1.0"/>
<circle cx="662.29" cy="79.32" r="2.7" fill="#f58a38" fill-opacity="0.85" stroke="none" stroke-width="1.0"/>
<circle cx="658.96" cy="81.79" r="2.7" fill="#cf4f18" fill-opacity="0.85" stroke="none" stroke-width="1.0"/>
<circle cx="661.01" cy="69.21" r="2.7" fill="#ad3a12" fill-opacity="0.85" stroke="none" stroke-width="1.0"/>
<circle cx="662.67" cy="64.17" r="2.7" fill="#ea6f22" fill-opacity="0.85" stroke="none" stroke-width="1.0"/>
<circle cx="663.23" cy="60.91" r="2.7" fill="#cf4f18" fill-opacity="0.85" stroke="none" stroke-width="1.0"/>
<line x1="617.3" y1="30.3" x2="617.3" y2="41.5" stroke="#000" stroke-width="1.25" />
<line x1="617.3" y1="73" x2="617.3" y2="96" stroke="#000" stroke-width="1.25" />
<line x1="611.5" y1="30.3" x2="623.1" y2="30.3" stroke="#000" stroke-width="1.25" />
<line x1="611.5" y1="96" x2="623.1" y2="96" stroke="#000" stroke-width="1.25" />
<rect x="606.1" y="41.5" width="22.4" height="31.5" fill="none" stroke="#000" stroke-width="1.25"/>
<line x1="606.1" y1="60.6" x2="628.5" y2="60.6" stroke="#000" stroke-width="1.25" />
<line x1="661.9" y1="31.4" x2="661.9" y2="59.7" stroke="#000" stroke-width="1.25" />
<line x1="661.9" y1="83.6" x2="661.9" y2="90.9" stroke="#000" stroke-width="1.25" />
<line x1="656.1" y1="31.4" x2="667.7" y2="31.4" stroke="#000" stroke-width="1.25" />
<line x1="656.1" y1="90.9" x2="667.7" y2="90.9" stroke="#000" stroke-width="1.25" />
<rect x="650.5" y="59.7" width="22.8" height="23.9" fill="none" stroke="#000" stroke-width="1.25"/>
<line x1="650.5" y1="68.5" x2="673.3" y2="68.5" stroke="#000" stroke-width="1.25" />
<line x1="630.1" y1="26.8" x2="649" y2="26.8" stroke="#3a3a3a" stroke-width="1.0" />
<text x="639.55" y="28.1" font-size="12" text-anchor="middle" fill="#2a2a2a">*</text>
<rect x="595.5" y="12.5" width="88" height="88" fill="none" stroke="#000" stroke-width="1.0"/>
<rect x="683" y="12" width="2" height="89" fill="#6b6b6b"/>
<line x1="591.3" y1="12.5" x2="595.5" y2="12.5" stroke="#000" stroke-width="0.9" />
<text x="586.2" y="16.68" font-size="10.0" text-anchor="end" fill="#000">100</text>
<line x1="591.3" y1="54.5" x2="595.5" y2="54.5" stroke="#000" stroke-width="0.9" />
<text x="586.2" y="58.68" font-size="10.0" text-anchor="end" fill="#000">50</text>
<line x1="591.3" y1="96.5" x2="595.5" y2="96.5" stroke="#000" stroke-width="0.9" />
<text x="586.2" y="100.68" font-size="10.0" text-anchor="end" fill="#000">0</text>
<line x1="617.5" y1="100.5" x2="617.5" y2="104.7" stroke="#000" stroke-width="0.9" />
<text x="617.5" y="116.8" font-size="10.0" text-anchor="middle" fill="#000">Young</text>
<line x1="661.5" y1="100.5" x2="661.5" y2="104.7" stroke="#000" stroke-width="0.9" />
<text x="661.5" y="116.8" font-size="10.0" text-anchor="middle" fill="#000">Aged</text>
<text x="568.2" y="56.15" font-size="11.5" text-anchor="middle" fill="#000" transform="rotate(-90 568.2 56.15)">% Spatial Cell</text>
<text x="548" y="10.5" font-size="14.3" text-anchor="start" fill="#000" font-weight="bold">d</text>
<circle cx="618.54" cy="161.76" r="2.7" fill="#0b4f94" fill-opacity="0.85" stroke="none" stroke-width="1.0"/>
<circle cx="614.81" cy="161.03" r="2.7" fill="#2a7ab9" fill-opacity="0.85" stroke="none" stroke-width="1.0"/>
<circle cx="616.31" cy="177.72" r="2.7" fill="#1f6fb2" fill-opacity="0.85" stroke="none" stroke-width="1.0"/>
<circle cx="615.76" cy="178.33" r="2.7" fill="#3d8dc4" fill-opacity="0.85" stroke="none" stroke-width="1.0"/>
<circle cx="616.21" cy="166.35" r="2.7" fill="#0b4f94" fill-opacity="0.85" stroke="none" stroke-width="1.0"/>
<circle cx="619.88" cy="175.95" r="2.7" fill="#1f6fb2" fill-opacity="0.85" stroke="none" stroke-width="1.0"/>
<circle cx="618.07" cy="173.26" r="2.7" fill="#3d8dc4" fill-opacity="0.85" stroke="none" stroke-width="1.0"/>
<circle cx="615.35" cy="175.02" r="2.7" fill="#5ba3d0" fill-opacity="0.85" stroke="none" stroke-width="1.0"/>
<circle cx="619.63" cy="177.95" r="2.7" fill="#5ba3d0" fill-opacity="0.85" stroke="none" stroke-width="1.0"/>
<circle cx="617.19" cy="165.53" r="2.7" fill="#5ba3d0" fill-opacity="0.85" stroke="none" stroke-width="1.0"/>
<circle cx="618.53" cy="179.09" r="2.7" fill="#1764ab" fill-opacity="0.85" stroke="none" stroke-width="1.0"/>
<circle cx="616.86" cy="166.07" r="2.7" fill="#3d8dc4" fill-opacity="0.85" stroke="none" stroke-width="1.0"/>
<circle cx="620.21" cy="165.54" r="2.7" fill="#1764ab" fill-opacity="0.85" stroke="none" stroke-width="1.0"/>
<circle cx="615.83" cy="180.61" r="2.7" fill="#0b4f94" fill-opacity="0.85" stroke="none" stroke-width="1.0"/>
<circle cx="618.21" cy="168.22" r="2.7" fill="#0b4f94" fill-opacity="0.85" stroke="none" stroke-width="1.0"/>
<circle cx="617.23" cy="174.8" r="2.7" fill="#0b4f94" fill-opacity="0.85" stroke="none" stroke-width="1.0"/>
<circle cx="618.27" cy="171.13" r="2.7" fill="#86bcdc" fill-opacity="0.85" stroke="none" stroke-width="1.0"/>
<circle cx="619.55" cy="183.33" r="2.7" fill="#86bcdc" fill-opacity="0.85" stroke="none" stroke-width="1.0"/>
<circle cx="618.69" cy="170.41" r="2.7" fill="#0b4f94" fill-opacity="0.85" stroke="none" stroke-width="1.0"/>
<circle cx="616.84" cy="173.11" r="2.7" fill="#5ba3d0" fill-opacity="0.85" stroke="none" stroke-width="1.0"/>
<circle cx="617.02" cy="166.05" r="2.7" fill="#1f6fb2" fill-opacity="0.85" stroke="none" stroke-width="1.0"/>
<circle cx="615.86" cy="168.4" r="2.7" fill="#86bcdc" fill-opacity="0.85" stroke="none" stroke-width="1.0"/>
<circle cx="616.41" cy="177.32" r="2.7" fill="#b2d2e8" fill-opacity="0.85" stroke="none" stroke-width="1.0"/>
<circle cx="618.46" cy="176.29" r="2.7" fill="#1f6fb2" fill-opacity="0.85" stroke="none" stroke-width="1.0"/>
<circle cx="620.15" cy="173.15" r="2.7" fill="#3d8dc4" fill-opacity="0.85" stroke="none" stroke-width="1.0"/>
<circle cx="615.84" cy="183.41" r="2.7" fill="#2a7ab9" fill-opacity="0.85" stroke="none" stroke-width="1.0"/>
<circle cx="617.45" cy="167.88" r="2.7" fill="#86bcdc" fill-opacity="0.85" stroke="none" stroke-width="1.0"/>
<circle cx="620.07" cy="161.67" r="2.7" fill="#5ba3d0" fill-opacity="0.85" stroke="none" stroke-width="1.0"/>
<circle cx="617.36" cy="176.96" r="2.7" fill="#1764ab" fill-opacity="0.85" stroke="none" stroke-width="1.0"/>
<circle cx="614.58" cy="166.73" r="2.7" fill="#0b4f94" fill-opacity="0.85" stroke="none" stroke-width="1.0"/>
<circle cx="660.96" cy="182.3" r="2.7" fill="#bf4416" fill-opacity="0.85" stroke="none" stroke-width="1.0"/>
<circle cx="664.5" cy="197.97" r="2.7" fill="#bf4416" fill-opacity="0.85" stroke="none" stroke-width="1.0"/>
<circle cx="661.46" cy="192.71" r="2.7" fill="#dd5c1b" fill-opacity="0.85" stroke="none" stroke-width="1.0"/>
<circle cx="664.18" cy="182.82" r="2.7" fill="#bf4416" fill-opacity="0.85" stroke="none" stroke-width="1.0"/>
<circle cx="661.16" cy="181.92" r="2.7" fill="#ea6f22" fill-opacity="0.85" stroke="none" stroke-width="1.0"/>
<circle cx="662.35" cy="176.2" r="2.7" fill="#ad3a12" fill-opacity="0.85" stroke="none" stroke-width="1.0"/>
<circle cx="661.46" cy="162.32" r="2.7" fill="#ea6f22" fill-opacity="0.85" stroke="none" stroke-width="1.0"/>
<circle cx="659.1" cy="167.96" r="2.7" fill="#f58a38" fill-opacity="0.85" stroke="none" stroke-width="1.0"/>
<circle cx="660.89" cy="177.88" r="2.7" fill="#ad3a12" fill-opacity="0.85" stroke="none" stroke-width="1.0"/>
<circle cx="662.68" cy="188.64" r="2.7" fill="#dd5c1b" fill-opacity="0.85" stroke="none" stroke-width="1.0"/>
<circle cx="661.29" cy="189.77" r="2.7" fill="#bf4416" fill-opacity="0.85" stroke="none" stroke-width="1.0"/>
<circle cx="663" cy="191.93" r="2.7" fill="#bf4416" fill-opacity="0.85" stroke="none" stroke-width="1.0"/>
<circle cx="664.29" cy="166.41" r="2.7" fill="#dd5c1b" fill-opacity="0.85" stroke="none" stroke-width="1.0"/>
<circle cx="661.81" cy="171.47" r="2.7" fill="#bf4416" fill-opacity="0.85" stroke="none" stroke-width="1.0"/>
<circle cx="664.65" cy="174.55" r="2.7" fill="#cf4f18" fill-opacity="0.85" stroke="none" stroke-width="1.0"/>
<circle cx="661" cy="180.29" r="2.7" fill="#cf4f18" fill-opacity="0.85" stroke="none" stroke-width="1.0"/>
<circle cx="663.56" cy="172.57" r="2.7" fill="#dd5c1b" fill-opacity="0.85" stroke="none" stroke-width="1.0"/>
<circle cx="660.99" cy="185.6" r="2.7" fill="#bf4416" fill-opacity="0.85" stroke="none" stroke-width="1.0"/>
<circle cx="659.83" cy="168.24" r="2.7" fill="#f58a38" fill-opacity="0.85" stroke="none" stroke-width="1.0"/>
<circle cx="663.48" cy="192.17" r="2.7" fill="#9c3410" fill-opacity="0.85" stroke="none" stroke-width="1.0"/>
<circle cx="663.46" cy="162.1" r="2.7" fill="#bf4416" fill-opacity="0.85" stroke="none" stroke-width="1.0"/>
<circle cx="659.51" cy="172.72" r="2.7" fill="#9c3410" fill-opacity="0.85" stroke="none" stroke-width="1.0"/>
<circle cx="660.11" cy="187.98" r="2.7" fill="#9c3410" fill-opacity="0.85" stroke="none" stroke-width="1.0"/>
<circle cx="661.7" cy="174.94" r="2.7" fill="#dd5c1b" fill-opacity="0.85" stroke="none" stroke-width="1.0"/>
<circle cx="661.54" cy="196.23" r="2.7" fill="#bf4416" fill-opacity="0.85" stroke="none" stroke-width="1.0"/>
<circle cx="662.08" cy="182.85" r="2.7" fill="#bf4416" fill-opacity="0.85" stroke="none" stroke-width="1.0"/>
<circle cx="662.12" cy="194.32" r="2.7" fill="#9c3410" fill-opacity="0.85" stroke="none" stroke-width="1.0"/>
<circle cx="659.7" cy="192.9" r="2.7" fill="#dd5c1b" fill-opacity="0.85" stroke="none" stroke-width="1.0"/>
<circle cx="660.6" cy="173.81" r="2.7" fill="#ea6f22" fill-opacity="0.85" stroke="none" stroke-width="1.0"/>
<circle cx="662.82" cy="198.39" r="2.7" fill="#f58a38" fill-opacity="0.85" stroke="none" stroke-width="1.0"/>
<line x1="617.3" y1="159.5" x2="617.3" y2="167.5" stroke="#000" stroke-width="1.25" />
<line x1="617.3" y1="175.6" x2="617.3" y2="185.8" stroke="#000" stroke-width="1.25" />
<line x1="611.9" y1="159.5" x2="622.7" y2="159.5" stroke="#000" stroke-width="1.25" />
<line x1="611.9" y1="185.8" x2="622.7" y2="185.8" stroke="#000" stroke-width="1.25" />
<rect x="606" y="167.5" width="22.6" height="8.1" fill="none" stroke="#000" stroke-width="1.25"/>
<line x1="606" y1="170.3" x2="628.6" y2="170.3" stroke="#000" stroke-width="1.25" />
<line x1="606" y1="168.6" x2="628.6" y2="168.6" stroke="#000" stroke-width="1.25" />
<line x1="661.9" y1="162.2" x2="661.9" y2="175.4" stroke="#000" stroke-width="1.25" />
<line x1="661.9" y1="187" x2="661.9" y2="198.7" stroke="#000" stroke-width="1.25" />
<line x1="656.5" y1="162.2" x2="667.3" y2="162.2" stroke="#000" stroke-width="1.25" />
<line x1="656.5" y1="198.7" x2="667.3" y2="198.7" stroke="#000" stroke-width="1.25" />
<rect x="650.5" y="175.4" width="22.8" height="11.6" fill="none" stroke="#000" stroke-width="1.25"/>
<line x1="650.5" y1="181.3" x2="673.3" y2="181.3" stroke="#000" stroke-width="1.25" />
<line x1="650.5" y1="179" x2="673.3" y2="179" stroke="#000" stroke-width="1.25" />
<circle cx="617.8" cy="200.2" r="3.4" fill="#b9d6ee" stroke="#000" stroke-width="1.1"/>
<circle cx="661.7" cy="206.3" r="3.4" fill="#fbb27a" stroke="#000" stroke-width="1.1"/>
<line x1="606" y1="222.8" x2="628.6" y2="222.8" stroke="#6aa6d6" stroke-width="1.4" stroke-dasharray="3.4,1.5"/>
<line x1="650.5" y1="229" x2="673.3" y2="229" stroke="#f59c52" stroke-width="1.4" stroke-dasharray="3.4,1.5"/>
<line x1="629.7" y1="161.2" x2="648.6" y2="161.2" stroke="#3a3a3a" stroke-width="1.0" />
<text x="639.15" y="161.6" font-size="12" text-anchor="middle" fill="#2a2a2a">****</text>
<rect x="595.5" y="145.5" width="88" height="88" fill="none" stroke="#000" stroke-width="1.0"/>
<rect x="683" y="145" width="2" height="89" fill="#6b6b6b"/>
<line x1="591.3" y1="155.5" x2="595.5" y2="155.5" stroke="#000" stroke-width="0.9" />
<text x="586" y="159.68" font-size="10.0" text-anchor="end" fill="#000">0.9</text>
<line x1="591.3" y1="186.5" x2="595.5" y2="186.5" stroke="#000" stroke-width="0.9" />
<text x="586" y="190.68" font-size="10.0" text-anchor="end" fill="#000">0.6</text>
<line x1="591.3" y1="217.5" x2="595.5" y2="217.5" stroke="#000" stroke-width="0.9" />
<text x="586" y="221.68" font-size="10.0" text-anchor="end" fill="#000">0.3</text>
<line x1="617.5" y1="233.5" x2="617.5" y2="237.7" stroke="#000" stroke-width="0.9" />
<text x="617.5" y="249.7" font-size="10.0" text-anchor="middle" fill="#000">Young</text>
<line x1="661.5" y1="233.5" x2="661.5" y2="237.7" stroke="#000" stroke-width="0.9" />
<text x="661.5" y="249.7" font-size="10.0" text-anchor="middle" fill="#000">Aged</text>
<text x="568.2" y="189.25" font-size="11.5" text-anchor="middle" fill="#000" transform="rotate(-90 568.2 189.25)">Mean Coherence</text>
<text x="548" y="143" font-size="14.3" text-anchor="start" fill="#000" font-weight="bold">e</text>
<circle cx="67.26" cy="357.3" r="2.7" fill="#1f6fb2" fill-opacity="0.85" stroke="none" stroke-width="1.0"/>
<circle cx="69.57" cy="341.62" r="2.7" fill="#86bcdc" fill-opacity="0.85" stroke="none" stroke-width="1.0"/>
<circle cx="70.23" cy="341.21" r="2.7" fill="#b2d2e8" fill-opacity="0.85" stroke="none" stroke-width="1.0"/>
<circle cx="69.08" cy="341.17" r="2.7" fill="#5ba3d0" fill-opacity="0.85" stroke="none" stroke-width="1.0"/>
<circle cx="72.07" cy="365.09" r="2.7" fill="#b2d2e8" fill-opacity="0.85" stroke="none" stroke-width="1.0"/>
<circle cx="68.17" cy="334.41" r="2.7" fill="#0b4f94" fill-opacity="0.85" stroke="none" stroke-width="1.0"/>
<circle cx="67.54" cy="357.73" r="2.7" fill="#0b4f94" fill-opacity="0.85" stroke="none" stroke-width="1.0"/>
<circle cx="71.88" cy="358.42" r="2.7" fill="#b2d2e8" fill-opacity="0.85" stroke="none" stroke-width="1.0"/>
<circle cx="71.77" cy="343.6" r="2.7" fill="#3d8dc4" fill-opacity="0.85" stroke="none" stroke-width="1.0"/>
<circle cx="66.99" cy="365.79" r="2.7" fill="#1764ab" fill-opacity="0.85" stroke="none" stroke-width="1.0"/>
<circle cx="70.76" cy="341.7" r="2.7" fill="#5ba3d0" fill-opacity="0.85" stroke="none" stroke-width="1.0"/>
<circle cx="68" cy="347.21" r="2.7" fill="#b2d2e8" fill-opacity="0.85" stroke="none" stroke-width="1.0"/>
<circle cx="71.67" cy="357.18" r="2.7" fill="#1764ab" fill-opacity="0.85" stroke="none" stroke-width="1.0"/>
<circle cx="71.79" cy="333.37" r="2.7" fill="#3d8dc4" fill-opacity="0.85" stroke="none" stroke-width="1.0"/>
<circle cx="71.49" cy="349.12" r="2.7" fill="#5ba3d0" fill-opacity="0.85" stroke="none" stroke-width="1.0"/>
<circle cx="72.03" cy="345.56" r="2.7" fill="#5ba3d0" fill-opacity="0.85" stroke="none" stroke-width="1.0"/>
<circle cx="68.24" cy="355.9" r="2.7" fill="#1764ab" fill-opacity="0.85" stroke="none" stroke-width="1.0"/>
<circle cx="66.77" cy="358.81" r="2.7" fill="#2a7ab9" fill-opacity="0.85" stroke="none" stroke-width="1.0"/>
<circle cx="70.24" cy="329.77" r="2.7" fill="#0b4f94" fill-opacity="0.85" stroke="none" stroke-width="1.0"/>
<circle cx="70.37" cy="361.47" r="2.7" fill="#3d8dc4" fill-opacity="0.85" stroke="none" stroke-width="1.0"/>
<circle cx="70.45" cy="354.61" r="2.7" fill="#3d8dc4" fill-opacity="0.85" stroke="none" stroke-width="1.0"/>
<circle cx="66.92" cy="352.77" r="2.7" fill="#1764ab" fill-opacity="0.85" stroke="none" stroke-width="1.0"/>
<circle cx="70.04" cy="354.37" r="2.7" fill="#0b4f94" fill-opacity="0.85" stroke="none" stroke-width="1.0"/>
<circle cx="70.77" cy="347.8" r="2.7" fill="#2a7ab9" fill-opacity="0.85" stroke="none" stroke-width="1.0"/>
<circle cx="72.3" cy="356.6" r="2.7" fill="#0b4f94" fill-opacity="0.85" stroke="none" stroke-width="1.0"/>
<circle cx="66.91" cy="355.71" r="2.7" fill="#5ba3d0" fill-opacity="0.85" stroke="none" stroke-width="1.0"/>
<circle cx="68.67" cy="347.15" r="2.7" fill="#5ba3d0" fill-opacity="0.85" stroke="none" stroke-width="1.0"/>
<circle cx="71.22" cy="345.06" r="2.7" fill="#3d8dc4" fill-opacity="0.85" stroke="none" stroke-width="1.0"/>
<circle cx="72.39" cy="358.14" r="2.7" fill="#86bcdc" fill-opacity="0.85" stroke="none" stroke-width="1.0"/>
<circle cx="69.25" cy="358.72" r="2.7" fill="#5ba3d0" fill-opacity="0.85" stroke="none" stroke-width="1.0"/>
<circle cx="115.65" cy="351.97" r="2.7" fill="#9c3410" fill-opacity="0.85" stroke="none" stroke-width="1.0"/>
<circle cx="115.07" cy="361.63" r="2.7" fill="#ea6f22" fill-opacity="0.85" stroke="none" stroke-width="1.0"/>
<circle cx="113.2" cy="344.2" r="2.7" fill="#dd5c1b" fill-opacity="0.85" stroke="none" stroke-width="1.0"/>
<circle cx="115.44" cy="357.1" r="2.7" fill="#bf4416" fill-opacity="0.85" stroke="none" stroke-width="1.0"/>
<circle cx="113.83" cy="350.41" r="2.7" fill="#f9ae74" fill-opacity="0.85" stroke="none" stroke-width="1.0"/>
<circle cx="115.05" cy="356.79" r="2.7" fill="#9c3410" fill-opacity="0.85" stroke="none" stroke-width="1.0"/>
<circle cx="115.86" cy="361.56" r="2.7" fill="#ea6f22" fill-opacity="0.85" stroke="none" stroke-width="1.0"/>
<circle cx="110.76" cy="354" r="2.7" fill="#f58a38" fill-opacity="0.85" stroke="none" stroke-width="1.0"/>
<circle cx="114.97" cy="357.25" r="2.7" fill="#bf4416" fill-opacity="0.85" stroke="none" stroke-width="1.0"/>
<circle cx="113.32" cy="352.56" r="2.7" fill="#f9ae74" fill-opacity="0.85" stroke="none" stroke-width="1.0"/>
<circle cx="113.35" cy="348.95" r="2.7" fill="#bf4416" fill-opacity="0.85" stroke="none" stroke-width="1.0"/>
<circle cx="115.5" cy="351.93" r="2.7" fill="#ad3a12" fill-opacity="0.85" stroke="none" stroke-width="1.0"/>
<circle cx="115.49" cy="348.81" r="2.7" fill="#cf4f18" fill-opacity="0.85" stroke="none" stroke-width="1.0"/>
<circle cx="114.59" cy="351.32" r="2.7" fill="#f58a38" fill-opacity="0.85" stroke="none" stroke-width="1.0"/>
<circle cx="110.54" cy="350" r="2.7" fill="#f58a38" fill-opacity="0.85" stroke="none" stroke-width="1.0"/>
<circle cx="115.18" cy="358.63" r="2.7" fill="#f58a38" fill-opacity="0.85" stroke="none" stroke-width="1.0"/>
<circle cx="111.34" cy="355.53" r="2.7" fill="#ad3a12" fill-opacity="0.85" stroke="none" stroke-width="1.0"/>
<circle cx="113.89" cy="352.78" r="2.7" fill="#9c3410" fill-opacity="0.85" stroke="none" stroke-width="1.0"/>
<circle cx="113.82" cy="356.87" r="2.7" fill="#9c3410" fill-opacity="0.85" stroke="none" stroke-width="1.0"/>
<circle cx="113.12" cy="347.46" r="2.7" fill="#dd5c1b" fill-opacity="0.85" stroke="none" stroke-width="1.0"/>
<circle cx="115.62" cy="353.13" r="2.7" fill="#9c3410" fill-opacity="0.85" stroke="none" stroke-width="1.0"/>
<circle cx="112.26" cy="351.22" r="2.7" fill="#ad3a12" fill-opacity="0.85" stroke="none" stroke-width="1.0"/>
<circle cx="115.2" cy="354.93" r="2.7" fill="#f9ae74" fill-opacity="0.85" stroke="none" stroke-width="1.0"/>
<circle cx="111.5" cy="359.21" r="2.7" fill="#ea6f22" fill-opacity="0.85" stroke="none" stroke-width="1.0"/>
<circle cx="114.83" cy="348.35" r="2.7" fill="#ea6f22" fill-opacity="0.85" stroke="none" stroke-width="1.0"/>
<circle cx="111.41" cy="354.52" r="2.7" fill="#cf4f18" fill-opacity="0.85" stroke="none" stroke-width="1.0"/>
<circle cx="112.79" cy="352.15" r="2.7" fill="#ad3a12" fill-opacity="0.85" stroke="none" stroke-width="1.0"/>
<circle cx="111.03" cy="350.05" r="2.7" fill="#bf4416" fill-opacity="0.85" stroke="none" stroke-width="1.0"/>
<circle cx="115.95" cy="361.43" r="2.7" fill="#cf4f18" fill-opacity="0.85" stroke="none" stroke-width="1.0"/>
<circle cx="115.17" cy="361.54" r="2.7" fill="#ea6f22" fill-opacity="0.85" stroke="none" stroke-width="1.0"/>
<circle cx="66.5" cy="328" r="2.0" fill="#fdae6b" fill-opacity="0.8" stroke="none" stroke-width="1.0"/>
<line x1="69.3" y1="328.3" x2="69.3" y2="339.2" stroke="#000" stroke-width="1.25" />
<line x1="69.3" y1="352.4" x2="69.3" y2="364.1" stroke="#000" stroke-width="1.25" />
<line x1="63.3" y1="328.3" x2="75.3" y2="328.3" stroke="#000" stroke-width="1.25" />
<line x1="63.3" y1="364.1" x2="75.3" y2="364.1" stroke="#000" stroke-width="1.25" />
<rect x="57.9" y="339.2" width="22.8" height="13.2" fill="none" stroke="#000" stroke-width="1.25"/>
<line x1="57.9" y1="347.6" x2="80.7" y2="347.6" stroke="#000" stroke-width="1.25" />
<line x1="57.9" y1="346.2" x2="80.7" y2="346.2" stroke="#000" stroke-width="1.25" />
<line x1="113.5" y1="340.8" x2="113.5" y2="347.3" stroke="#000" stroke-width="1.25" />
<line x1="113.5" y1="357.1" x2="113.5" y2="364.1" stroke="#000" stroke-width="1.25" />
<line x1="107.5" y1="340.8" x2="119.5" y2="340.8" stroke="#000" stroke-width="1.25" />
<line x1="107.5" y1="364.1" x2="119.5" y2="364.1" stroke="#000" stroke-width="1.25" />
<rect x="102.2" y="347.3" width="22.6" height="9.8" fill="none" stroke="#000" stroke-width="1.25"/>
<line x1="102.2" y1="353.9" x2="124.8" y2="353.9" stroke="#000" stroke-width="1.25" />
<line x1="102.2" y1="352.4" x2="124.8" y2="352.4" stroke="#000" stroke-width="1.25" />
<circle cx="69.2" cy="300.1" r="3.3" fill="#6aaee0" stroke="#000" stroke-width="1.1"/>
<circle cx="113.1" cy="326.2" r="3.3" fill="none" stroke="#000" stroke-width="1.1"/>
<circle cx="113.1" cy="329.9" r="3.3" fill="none" stroke="#000" stroke-width="1.1"/>
<circle cx="110" cy="328.5" r="1.8" fill="#fdae6b" fill-opacity="0.8" stroke="none" stroke-width="1.0"/>
<circle cx="116.5" cy="326" r="1.8" fill="#c4410c" fill-opacity="0.8" stroke="none" stroke-width="1.0"/>
<line x1="58.1" y1="364.4" x2="79.8" y2="364.4" stroke="#4a98d0" stroke-width="1.4" stroke-dasharray="3.4,1.5"/>
<line x1="102.6" y1="365.2" x2="124.5" y2="365.2" stroke="#f59c52" stroke-width="1.4" stroke-dasharray="3.4,1.5"/>
<line x1="81.9" y1="303.4" x2="100.9" y2="303.4" stroke="#3a3a3a" stroke-width="1.0" />
<text x="91.4" y="304.6" font-size="12" text-anchor="middle" fill="#2a2a2a">**</text>
<rect x="47.5" y="288.5" width="88" height="88" fill="none" stroke="#000" stroke-width="1.0"/>
<line x1="43.3" y1="299.5" x2="47.5" y2="299.5" stroke="#000" stroke-width="0.9" />
<text x="38" y="303.68" font-size="10.0" text-anchor="end" fill="#000">0.3</text>
<line x1="43.3" y1="321.5" x2="47.5" y2="321.5" stroke="#000" stroke-width="0.9" />
<text x="38" y="325.68" font-size="10.0" text-anchor="end" fill="#000">0.2</text>
<line x1="43.3" y1="343.5" x2="47.5" y2="343.5" stroke="#000" stroke-width="0.9" />
<text x="38" y="347.68" font-size="10.0" text-anchor="end" fill="#000">0.1</text>
<line x1="43.3" y1="365.5" x2="47.5" y2="365.5" stroke="#000" stroke-width="0.9" />
<text x="38" y="369.68" font-size="10.0" text-anchor="end" fill="#000">0.0</text>
<line x1="69.5" y1="376.5" x2="69.5" y2="380.7" stroke="#000" stroke-width="0.9" />
<text x="69.5" y="393.1" font-size="10.0" text-anchor="middle" fill="#000">Young</text>
<line x1="113.5" y1="376.5" x2="113.5" y2="380.7" stroke="#000" stroke-width="0.9" />
<text x="113.5" y="393.1" font-size="10.0" text-anchor="middle" fill="#000">Aged</text>
<text x="17.5" y="332.75" font-size="11.5" text-anchor="middle" fill="#000" transform="rotate(-90 17.5 332.75)">Mean Info. (bits/spike)</text>
<text x="2.5" y="285.2" font-size="14.3" text-anchor="start" fill="#000" font-weight="bold">f</text>
<circle cx="208.63" cy="322.43" r="2.7" fill="#1f6fb2" fill-opacity="0.85" stroke="none" stroke-width="1.0"/>
<circle cx="211.93" cy="317" r="2.7" fill="#1764ab" fill-opacity="0.85" stroke="none" stroke-width="1.0"/>
<circle cx="210.05" cy="329.31" r="2.7" fill="#1764ab" fill-opacity="0.85" stroke="none" stroke-width="1.0"/>
<circle cx="211.59" cy="313.23" r="2.7" fill="#b2d2e8" fill-opacity="0.85" stroke="none" stroke-width="1.0"/>
<circle cx="208.37" cy="344.77" r="2.7" fill="#0b4f94" fill-opacity="0.85" stroke="none" stroke-width="1.0"/>
<circle cx="211.51" cy="338.81" r="2.7" fill="#2a7ab9" fill-opacity="0.85" stroke="none" stroke-width="1.0"/>
<circle cx="207.43" cy="317.88" r="2.7" fill="#b2d2e8" fill-opacity="0.85" stroke="none" stroke-width="1.0"/>
<circle cx="208.12" cy="320.49" r="2.7" fill="#0b4f94" fill-opacity="0.85" stroke="none" stroke-width="1.0"/>
<circle cx="210.47" cy="327.59" r="2.7" fill="#1f6fb2" fill-opacity="0.85" stroke="none" stroke-width="1.0"/>
<circle cx="212.23" cy="342.58" r="2.7" fill="#1f6fb2" fill-opacity="0.85" stroke="none" stroke-width="1.0"/>
<circle cx="209.34" cy="338.27" r="2.7" fill="#1764ab" fill-opacity="0.85" stroke="none" stroke-width="1.0"/>
<circle cx="211.34" cy="332.55" r="2.7" fill="#1764ab" fill-opacity="0.85" stroke="none" stroke-width="1.0"/>
<circle cx="212.99" cy="322.63" r="2.7" fill="#b2d2e8" fill-opacity="0.85" stroke="none" stroke-width="1.0"/>
<circle cx="207.44" cy="309.43" r="2.7" fill="#3d8dc4" fill-opacity="0.85" stroke="none" stroke-width="1.0"/>
<circle cx="208.94" cy="318.61" r="2.7" fill="#86bcdc" fill-opacity="0.85" stroke="none" stroke-width="1.0"/>
<circle cx="210.42" cy="308.85" r="2.7" fill="#0b4f94" fill-opacity="0.85" stroke="none" stroke-width="1.0"/>
<circle cx="208.96" cy="332.23" r="2.7" fill="#1f6fb2" fill-opacity="0.85" stroke="none" stroke-width="1.0"/>
<circle cx="209.69" cy="312.25" r="2.7" fill="#86bcdc" fill-opacity="0.85" stroke="none" stroke-width="1.0"/>
<circle cx="210.04" cy="339.7" r="2.7" fill="#0b4f94" fill-opacity="0.85" stroke="none" stroke-width="1.0"/>
<circle cx="212.95" cy="337.51" r="2.7" fill="#2a7ab9" fill-opacity="0.85" stroke="none" stroke-width="1.0"/>
<circle cx="210.81" cy="329.54" r="2.7" fill="#0b4f94" fill-opacity="0.85" stroke="none" stroke-width="1.0"/>
<circle cx="208.55" cy="309.63" r="2.7" fill="#b2d2e8" fill-opacity="0.85" stroke="none" stroke-width="1.0"/>
<circle cx="209.67" cy="330.89" r="2.7" fill="#1f6fb2" fill-opacity="0.85" stroke="none" stroke-width="1.0"/>
<circle cx="207.38" cy="335.37" r="2.7" fill="#1f6fb2" fill-opacity="0.85" stroke="none" stroke-width="1.0"/>
<circle cx="209.34" cy="363.11" r="2.7" fill="#3d8dc4" fill-opacity="0.85" stroke="none" stroke-width="1.0"/>
<circle cx="210.3" cy="339.47" r="2.7" fill="#2a7ab9" fill-opacity="0.85" stroke="none" stroke-width="1.0"/>
<circle cx="208.08" cy="333.03" r="2.7" fill="#b2d2e8" fill-opacity="0.85" stroke="none" stroke-width="1.0"/>
<circle cx="211.7" cy="308.78" r="2.7" fill="#3d8dc4" fill-opacity="0.85" stroke="none" stroke-width="1.0"/>
<circle cx="212.08" cy="308.73" r="2.7" fill="#1f6fb2" fill-opacity="0.85" stroke="none" stroke-width="1.0"/>
<circle cx="209.14" cy="323.67" r="2.7" fill="#0b4f94" fill-opacity="0.85" stroke="none" stroke-width="1.0"/>
<circle cx="254.72" cy="342.86" r="2.7" fill="#f58a38" fill-opacity="0.85" stroke="none" stroke-width="1.0"/>
<circle cx="253.99" cy="363.35" r="2.7" fill="#9c3410" fill-opacity="0.85" stroke="none" stroke-width="1.0"/>
<circle cx="257.28" cy="336.09" r="2.7" fill="#dd5c1b" fill-opacity="0.85" stroke="none" stroke-width="1.0"/>
<circle cx="252.07" cy="332.93" r="2.7" fill="#f9ae74" fill-opacity="0.85" stroke="none" stroke-width="1.0"/>
<circle cx="254.54" cy="316.35" r="2.7" fill="#9c3410" fill-opacity="0.85" stroke="none" stroke-width="1.0"/>
<circle cx="254.59" cy="316.77" r="2.7" fill="#cf4f18" fill-opacity="0.85" stroke="none" stroke-width="1.0"/>
<circle cx="256.26" cy="334.42" r="2.7" fill="#9c3410" fill-opacity="0.85" stroke="none" stroke-width="1.0"/>
<circle cx="253.11" cy="349.33" r="2.7" fill="#dd5c1b" fill-opacity="0.85" stroke="none" stroke-width="1.0"/>
<circle cx="257.58" cy="327.56" r="2.7" fill="#ad3a12" fill-opacity="0.85" stroke="none" stroke-width="1.0"/>
<circle cx="253.84" cy="341.89" r="2.7" fill="#bf4416" fill-opacity="0.85" stroke="none" stroke-width="1.0"/>
<circle cx="254.1" cy="342.78" r="2.7" fill="#f58a38" fill-opacity="0.85" stroke="none" stroke-width="1.0"/>
<circle cx="257.38" cy="336.64" r="2.7" fill="#ad3a12" fill-opacity="0.85" stroke="none" stroke-width="1.0"/>
<circle cx="255.47" cy="341.49" r="2.7" fill="#ad3a12" fill-opacity="0.85" stroke="none" stroke-width="1.0"/>
<circle cx="254.8" cy="364.2" r="2.7" fill="#cf4f18" fill-opacity="0.85" stroke="none" stroke-width="1.0"/>
<circle cx="254.63" cy="343.02" r="2.7" fill="#cf4f18" fill-opacity="0.85" stroke="none" stroke-width="1.0"/>
<circle cx="254.58" cy="347.81" r="2.7" fill="#bf4416" fill-opacity="0.85" stroke="none" stroke-width="1.0"/>
<circle cx="257.1" cy="349.16" r="2.7" fill="#dd5c1b" fill-opacity="0.85" stroke="none" stroke-width="1.0"/>
<circle cx="255.48" cy="343.74" r="2.7" fill="#dd5c1b" fill-opacity="0.85" stroke="none" stroke-width="1.0"/>
<circle cx="256.79" cy="320.78" r="2.7" fill="#cf4f18" fill-opacity="0.85" stroke="none" stroke-width="1.0"/>
<circle cx="252.7" cy="330.26" r="2.7" fill="#dd5c1b" fill-opacity="0.85" stroke="none" stroke-width="1.0"/>
<circle cx="253.91" cy="353.21" r="2.7" fill="#bf4416" fill-opacity="0.85" stroke="none" stroke-width="1.0"/>
<circle cx="252.55" cy="352.73" r="2.7" fill="#dd5c1b" fill-opacity="0.85" stroke="none" stroke-width="1.0"/>
<circle cx="252.59" cy="346.8" r="2.7" fill="#ad3a12" fill-opacity="0.85" stroke="none" stroke-width="1.0"/>
<circle cx="252.93" cy="348.46" r="2.7" fill="#f9ae74" fill-opacity="0.85" stroke="none" stroke-width="1.0"/>
<circle cx="252.68" cy="352.96" r="2.7" fill="#dd5c1b" fill-opacity="0.85" stroke="none" stroke-width="1.0"/>
<circle cx="255.35" cy="325.01" r="2.7" fill="#cf4f18" fill-opacity="0.85" stroke="none" stroke-width="1.0"/>
<circle cx="253.03" cy="335.11" r="2.7" fill="#f9ae74" fill-opacity="0.85" stroke="none" stroke-width="1.0"/>
<circle cx="252.68" cy="342.79" r="2.7" fill="#f9ae74" fill-opacity="0.85" stroke="none" stroke-width="1.0"/>
<circle cx="253.11" cy="331.31" r="2.7" fill="#f58a38" fill-opacity="0.85" stroke="none" stroke-width="1.0"/>
<circle cx="255.61" cy="338.4" r="2.7" fill="#9c3410" fill-opacity="0.85" stroke="none" stroke-width="1.0"/>
<line x1="210.1" y1="304.2" x2="210.1" y2="321.3" stroke="#000" stroke-width="1.25" />
<line x1="210.1" y1="340.9" x2="210.1" y2="361.4" stroke="#000" stroke-width="1.25" />
<line x1="204.3" y1="304.2" x2="215.9" y2="304.2" stroke="#000" stroke-width="1.25" />
<line x1="204.3" y1="361.4" x2="215.9" y2="361.4" stroke="#000" stroke-width="1.25" />
<rect x="198.7" y="321.3" width="22.8" height="19.6" fill="none" stroke="#000" stroke-width="1.25"/>
<line x1="198.7" y1="330.8" x2="221.5" y2="330.8" stroke="#000" stroke-width="1.25" />
<line x1="254.6" y1="314.2" x2="254.6" y2="333.6" stroke="#000" stroke-width="1.25" />
<line x1="254.6" y1="350.2" x2="254.6" y2="363.3" stroke="#000" stroke-width="1.25" />
<line x1="248.8" y1="314.2" x2="260.4" y2="314.2" stroke="#000" stroke-width="1.25" />
<line x1="248.8" y1="363.3" x2="260.4" y2="363.3" stroke="#000" stroke-width="1.25" />
<rect x="243.4" y="333.6" width="22.4" height="16.6" fill="none" stroke="#000" stroke-width="1.25"/>
<line x1="243.4" y1="344.4" x2="265.8" y2="344.4" stroke="#000" stroke-width="1.25" />
<circle cx="254.6" cy="306" r="3.4" fill="#fbb27a" stroke="#000" stroke-width="1.1"/>
<line x1="199" y1="364" x2="221" y2="364" stroke="#4a98d0" stroke-width="1.4" stroke-dasharray="3.4,1.5"/>
<line x1="243.5" y1="364" x2="266" y2="364" stroke="#f59c52" stroke-width="1.4" stroke-dasharray="3.4,1.5"/>
<line x1="222.4" y1="303.3" x2="241.3" y2="303.3" stroke="#3a3a3a" stroke-width="1.0" />
<text x="231.85" y="305.2" font-size="12" text-anchor="middle" fill="#2a2a2a">***</text>
<rect x="188.5" y="288.5" width="88" height="88" fill="none" stroke="#000" stroke-width="1.0"/>
<line x1="184.3" y1="288.5" x2="188.5" y2="288.5" stroke="#000" stroke-width="0.9" />
<text x="178.7" y="292.68" font-size="10.0" text-anchor="end" fill="#000">0.3</text>
<line x1="184.3" y1="314.5" x2="188.5" y2="314.5" stroke="#000" stroke-width="0.9" />
<text x="178.7" y="318.68" font-size="10.0" text-anchor="end" fill="#000">0.2</text>
<line x1="184.3" y1="339.5" x2="188.5" y2="339.5" stroke="#000" stroke-width="0.9" />
<text x="178.7" y="343.68" font-size="10.0" text-anchor="end" fill="#000">0.1</text>
<line x1="184.3" y1="364.5" x2="188.5" y2="364.5" stroke="#000" stroke-width="0.9" />
<text x="178.7" y="368.68" font-size="10.0" text-anchor="end" fill="#000">0.0</text>
<line x1="210.5" y1="376.5" x2="210.5" y2="380.7" stroke="#000" stroke-width="0.9" />
<text x="210.5" y="393" font-size="10.0" text-anchor="middle" fill="#000">Young</text>
<line x1="254.5" y1="376.5" x2="254.5" y2="380.7" stroke="#000" stroke-width="0.9" />
<text x="254.5" y="393" font-size="10.0" text-anchor="middle" fill="#000">Aged</text>
<text x="163" y="332.7" font-size="11.5" text-anchor="middle" fill="#000" transform="rotate(-90 163 332.7)">Mean Stability</text>
<text x="143" y="285.9" font-size="14.3" text-anchor="start" fill="#000" font-weight="bold">g</text>
<circle cx="618.53" cy="330.88" r="2.7" fill="#5ba3d0" fill-opacity="0.85" stroke="none" stroke-width="1.0"/>
<circle cx="620.49" cy="339.89" r="2.7" fill="#5ba3d0" fill-opacity="0.85" stroke="none" stroke-width="1.0"/>
<circle cx="618.61" cy="309.42" r="2.7" fill="#86bcdc" fill-opacity="0.85" stroke="none" stroke-width="1.0"/>
<circle cx="618.43" cy="337.98" r="2.7" fill="#5ba3d0" fill-opacity="0.85" stroke="none" stroke-width="1.0"/>
<circle cx="614.97" cy="318.6" r="2.7" fill="#0b4f94" fill-opacity="0.85" stroke="none" stroke-width="1.0"/>
<circle cx="620.12" cy="300.9" r="2.7" fill="#86bcdc" fill-opacity="0.85" stroke="none" stroke-width="1.0"/>
<circle cx="618.64" cy="359.4" r="2.7" fill="#5ba3d0" fill-opacity="0.85" stroke="none" stroke-width="1.0"/>
<circle cx="618.7" cy="332.86" r="2.7" fill="#1764ab" fill-opacity="0.85" stroke="none" stroke-width="1.0"/>
<circle cx="618.67" cy="304.7" r="2.7" fill="#2a7ab9" fill-opacity="0.85" stroke="none" stroke-width="1.0"/>
<circle cx="616.14" cy="307.73" r="2.7" fill="#b2d2e8" fill-opacity="0.85" stroke="none" stroke-width="1.0"/>
<circle cx="615" cy="308.93" r="2.7" fill="#0b4f94" fill-opacity="0.85" stroke="none" stroke-width="1.0"/>
<circle cx="619.87" cy="333.08" r="2.7" fill="#3d8dc4" fill-opacity="0.85" stroke="none" stroke-width="1.0"/>
<circle cx="618.29" cy="319.13" r="2.7" fill="#2a7ab9" fill-opacity="0.85" stroke="none" stroke-width="1.0"/>
<circle cx="619.1" cy="340.75" r="2.7" fill="#86bcdc" fill-opacity="0.85" stroke="none" stroke-width="1.0"/>
<circle cx="619.38" cy="303.36" r="2.7" fill="#1f6fb2" fill-opacity="0.85" stroke="none" stroke-width="1.0"/>
<circle cx="619.85" cy="322.49" r="2.7" fill="#1764ab" fill-opacity="0.85" stroke="none" stroke-width="1.0"/>
<circle cx="620.06" cy="315.43" r="2.7" fill="#1764ab" fill-opacity="0.85" stroke="none" stroke-width="1.0"/>
<circle cx="619.25" cy="318.84" r="2.7" fill="#b2d2e8" fill-opacity="0.85" stroke="none" stroke-width="1.0"/>
<circle cx="620.35" cy="316.49" r="2.7" fill="#2a7ab9" fill-opacity="0.85" stroke="none" stroke-width="1.0"/>
<circle cx="615.99" cy="301.24" r="2.7" fill="#5ba3d0" fill-opacity="0.85" stroke="none" stroke-width="1.0"/>
<circle cx="616.96" cy="304.37" r="2.7" fill="#5ba3d0" fill-opacity="0.85" stroke="none" stroke-width="1.0"/>
<circle cx="614.99" cy="350.64" r="2.7" fill="#86bcdc" fill-opacity="0.85" stroke="none" stroke-width="1.0"/>
<circle cx="618.03" cy="352.93" r="2.7" fill="#5ba3d0" fill-opacity="0.85" stroke="none" stroke-width="1.0"/>
<circle cx="616.19" cy="355.2" r="2.7" fill="#1f6fb2" fill-opacity="0.85" stroke="none" stroke-width="1.0"/>
<circle cx="614.62" cy="316.64" r="2.7" fill="#0b4f94" fill-opacity="0.85" stroke="none" stroke-width="1.0"/>
<circle cx="616.86" cy="311.05" r="2.7" fill="#2a7ab9" fill-opacity="0.85" stroke="none" stroke-width="1.0"/>
<circle cx="614.51" cy="347.55" r="2.7" fill="#5ba3d0" fill-opacity="0.85" stroke="none" stroke-width="1.0"/>
<circle cx="618.72" cy="337.5" r="2.7" fill="#86bcdc" fill-opacity="0.85" stroke="none" stroke-width="1.0"/>
<circle cx="619.01" cy="329.93" r="2.7" fill="#b2d2e8" fill-opacity="0.85" stroke="none" stroke-width="1.0"/>
<circle cx="620.21" cy="323.14" r="2.7" fill="#3d8dc4" fill-opacity="0.85" stroke="none" stroke-width="1.0"/>
<circle cx="663.38" cy="354.59" r="2.7" fill="#ad3a12" fill-opacity="0.85" stroke="none" stroke-width="1.0"/>
<circle cx="661.78" cy="367.6" r="2.7" fill="#bf4416" fill-opacity="0.85" stroke="none" stroke-width="1.0"/>
<circle cx="660.11" cy="360.35" r="2.7" fill="#bf4416" fill-opacity="0.85" stroke="none" stroke-width="1.0"/>
<circle cx="660.55" cy="322.53" r="2.7" fill="#f58a38" fill-opacity="0.85" stroke="none" stroke-width="1.0"/>
<circle cx="662.5" cy="330.37" r="2.7" fill="#dd5c1b" fill-opacity="0.85" stroke="none" stroke-width="1.0"/>
<circle cx="663.8" cy="346.56" r="2.7" fill="#cf4f18" fill-opacity="0.85" stroke="none" stroke-width="1.0"/>
<circle cx="658.85" cy="336.41" r="2.7" fill="#f58a38" fill-opacity="0.85" stroke="none" stroke-width="1.0"/>
<circle cx="661.33" cy="345.49" r="2.7" fill="#9c3410" fill-opacity="0.85" stroke="none" stroke-width="1.0"/>
<circle cx="663.6" cy="339.82" r="2.7" fill="#f58a38" fill-opacity="0.85" stroke="none" stroke-width="1.0"/>
<circle cx="659.63" cy="329.75" r="2.7" fill="#f58a38" fill-opacity="0.85" stroke="none" stroke-width="1.0"/>
<circle cx="662.37" cy="350.71" r="2.7" fill="#f9ae74" fill-opacity="0.85" stroke="none" stroke-width="1.0"/>
<circle cx="660.33" cy="348.47" r="2.7" fill="#9c3410" fill-opacity="0.85" stroke="none" stroke-width="1.0"/>
<circle cx="664.21" cy="338.96" r="2.7" fill="#cf4f18" fill-opacity="0.85" stroke="none" stroke-width="1.0"/>
<circle cx="664.21" cy="326.33" r="2.7" fill="#9c3410" fill-opacity="0.85" stroke="none" stroke-width="1.0"/>
<circle cx="661.49" cy="342.29" r="2.7" fill="#dd5c1b" fill-opacity="0.85" stroke="none" stroke-width="1.0"/>
<circle cx="661.98" cy="311.61" r="2.7" fill="#bf4416" fill-opacity="0.85" stroke="none" stroke-width="1.0"/>
<circle cx="660.64" cy="346.5" r="2.7" fill="#f9ae74" fill-opacity="0.85" stroke="none" stroke-width="1.0"/>
<circle cx="663.7" cy="359.8" r="2.7" fill="#9c3410" fill-opacity="0.85" stroke="none" stroke-width="1.0"/>
<circle cx="663.59" cy="332.31" r="2.7" fill="#cf4f18" fill-opacity="0.85" stroke="none" stroke-width="1.0"/>
<circle cx="660.71" cy="344.51" r="2.7" fill="#bf4416" fill-opacity="0.85" stroke="none" stroke-width="1.0"/>
<circle cx="663.19" cy="308.78" r="2.7" fill="#cf4f18" fill-opacity="0.85" stroke="none" stroke-width="1.0"/>
<circle cx="661.79" cy="339.24" r="2.7" fill="#bf4416" fill-opacity="0.85" stroke="none" stroke-width="1.0"/>
<circle cx="660.92" cy="340.26" r="2.7" fill="#9c3410" fill-opacity="0.85" stroke="none" stroke-width="1.0"/>
<circle cx="659.74" cy="323.73" r="2.7" fill="#9c3410" fill-opacity="0.85" stroke="none" stroke-width="1.0"/>
<circle cx="663.23" cy="351.85" r="2.7" fill="#f9ae74" fill-opacity="0.85" stroke="none" stroke-width="1.0"/>
<circle cx="661.96" cy="318.58" r="2.7" fill="#cf4f18" fill-opacity="0.85" stroke="none" stroke-width="1.0"/>
<circle cx="663.27" cy="322.41" r="2.7" fill="#f9ae74" fill-opacity="0.85" stroke="none" stroke-width="1.0"/>
<circle cx="662.17" cy="310.84" r="2.7" fill="#cf4f18" fill-opacity="0.85" stroke="none" stroke-width="1.0"/>
<circle cx="664.18" cy="344.67" r="2.7" fill="#ad3a12" fill-opacity="0.85" stroke="none" stroke-width="1.0"/>
<circle cx="661.02" cy="330.11" r="2.7" fill="#f9ae74" fill-opacity="0.85" stroke="none" stroke-width="1.0"/>
<line x1="617.3" y1="295.4" x2="617.3" y2="299.8" stroke="#000" stroke-width="1.25" />
<line x1="617.3" y1="338.3" x2="617.3" y2="367.9" stroke="#000" stroke-width="1.25" />
<line x1="611.3" y1="295.4" x2="623.3" y2="295.4" stroke="#000" stroke-width="1.25" />
<line x1="611.3" y1="367.9" x2="623.3" y2="367.9" stroke="#000" stroke-width="1.25" />
<rect x="606.3" y="299.8" width="22" height="38.5" fill="none" stroke="#000" stroke-width="1.25"/>
<line x1="606.3" y1="323.5" x2="628.3" y2="323.5" stroke="#000" stroke-width="1.25" />
<line x1="661.9" y1="301" x2="661.9" y2="323" stroke="#000" stroke-width="1.25" />
<line x1="661.9" y1="347.4" x2="661.9" y2="371.9" stroke="#000" stroke-width="1.25" />
<line x1="655.9" y1="301" x2="667.9" y2="301" stroke="#000" stroke-width="1.25" />
<line x1="655.9" y1="371.9" x2="667.9" y2="371.9" stroke="#000" stroke-width="1.25" />
<rect x="650.6" y="323" width="22.6" height="24.4" fill="none" stroke="#000" stroke-width="1.25"/>
<line x1="650.6" y1="330.5" x2="673.2" y2="330.5" stroke="#000" stroke-width="1.25" />
<line x1="606" y1="363.3" x2="628.6" y2="363.3" stroke="#4a98d0" stroke-width="1.4" stroke-dasharray="3.4,1.5"/>
<line x1="650.5" y1="365.4" x2="673.3" y2="365.4" stroke="#f59c52" stroke-width="1.4" stroke-dasharray="3.4,1.5"/>
<line x1="630.8" y1="303.4" x2="650" y2="303.4" stroke="#3a3a3a" stroke-width="1.0" />
<text x="640.4" y="304.5" font-size="12" text-anchor="middle" fill="#2a2a2a">*</text>
<rect x="595.5" y="288.9" width="88" height="87.6" fill="none" stroke="#000" stroke-width="1.0"/>
<rect x="683" y="288" width="2" height="89" fill="#6b6b6b"/>
<line x1="591.3" y1="288.5" x2="595.5" y2="288.5" stroke="#000" stroke-width="0.9" />
<text x="586" y="292.68" font-size="10.0" text-anchor="end" fill="#000">1.00</text>
<line x1="591.3" y1="310.5" x2="595.5" y2="310.5" stroke="#000" stroke-width="0.9" />
<text x="586" y="314.68" font-size="10.0" text-anchor="end" fill="#000">0.75</text>
<line x1="591.3" y1="332.5" x2="595.5" y2="332.5" stroke="#000" stroke-width="0.9" />
<text x="586" y="336.68" font-size="10.0" text-anchor="end" fill="#000">0.50</text>
<line x1="591.3" y1="354.5" x2="595.5" y2="354.5" stroke="#000" stroke-width="0.9" />
<text x="586" y="358.68" font-size="10.0" text-anchor="end" fill="#000">0.25</text>
<line x1="591.3" y1="376.5" x2="595.5" y2="376.5" stroke="#000" stroke-width="0.9" />
<text x="586" y="380.68" font-size="10.0" text-anchor="end" fill="#000">0.00</text>
<line x1="617.5" y1="376.5" x2="617.5" y2="380.7" stroke="#000" stroke-width="0.9" />
<text x="617.5" y="393.3" font-size="10.0" text-anchor="middle" fill="#000">Young</text>
<line x1="661.5" y1="376.5" x2="661.5" y2="380.7" stroke="#000" stroke-width="0.9" />
<text x="661.5" y="393.3" font-size="10.0" text-anchor="middle" fill="#000">Aged</text>
<text x="562.7" y="332.85" font-size="11.5" text-anchor="middle" fill="#000" transform="rotate(-90 562.7 332.85)">Decoder Score</text>
<text x="546.5" y="284.5" font-size="14.3" text-anchor="start" fill="#000" font-weight="bold">i</text>
<svg x="342.7" y="290.3" width="194.8" height="73.89999999999998" viewBox="342.7 290.3 194.8 73.89999999999998" overflow="hidden">
<circle cx="350.3" cy="326.7" r="2.5" fill="#1f77b4" stroke="none" stroke-width="1.0"/>
<circle cx="353" cy="327.1" r="2.5" fill="#1f77b4" stroke="none" stroke-width="1.0"/>
<circle cx="379.9" cy="325.4" r="2.5" fill="#1f77b4" stroke="none" stroke-width="1.0"/>
<circle cx="396.6" cy="319" r="2.5" fill="#1f77b4" stroke="none" stroke-width="1.0"/>
<circle cx="406.5" cy="315" r="2.5" fill="#1f77b4" stroke="none" stroke-width="1.0"/>
<circle cx="416.1" cy="314.6" r="2.5" fill="#1f77b4" stroke="none" stroke-width="1.0"/>
<circle cx="409.7" cy="322.7" r="2.5" fill="#1f77b4" stroke="none" stroke-width="1.0"/>
<circle cx="403.5" cy="326.7" r="2.5" fill="#1f77b4" stroke="none" stroke-width="1.0"/>
<circle cx="413.9" cy="327.6" r="2.5" fill="#1f77b4" stroke="none" stroke-width="1.0"/>
<circle cx="426.1" cy="314.9" r="2.5" fill="#1f77b4" stroke="none" stroke-width="1.0"/>
<circle cx="429.8" cy="310.9" r="2.5" fill="#1f77b4" stroke="none" stroke-width="1.0"/>
<circle cx="435" cy="311.3" r="2.5" fill="#1f77b4" stroke="none" stroke-width="1.0"/>
<circle cx="437.5" cy="309.4" r="2.5" fill="#1f77b4" stroke="none" stroke-width="1.0"/>
<circle cx="422" cy="331.6" r="2.5" fill="#1f77b4" stroke="none" stroke-width="1.0"/>
<circle cx="437.5" cy="338.2" r="2.5" fill="#1f77b4" stroke="none" stroke-width="1.0"/>
<circle cx="360.7" cy="360.7" r="2.5" fill="#1f77b4" stroke="none" stroke-width="1.0"/>
<circle cx="393.9" cy="335" r="2.5" fill="#1f77b4" stroke="none" stroke-width="1.0"/>
<circle cx="430.8" cy="311.3" r="2.5" fill="#1f77b4" stroke="none" stroke-width="1.0"/>
<circle cx="434.8" cy="311.3" r="2.5" fill="#1f77b4" stroke="none" stroke-width="1.0"/>
<circle cx="437.7" cy="308.9" r="2.5" fill="#1f77b4" stroke="none" stroke-width="1.0"/>
<circle cx="451.2" cy="304" r="2.5" fill="#1f77b4" stroke="none" stroke-width="1.0"/>
<circle cx="451.2" cy="310.2" r="2.5" fill="#1f77b4" stroke="none" stroke-width="1.0"/>
<circle cx="442.8" cy="312.1" r="2.5" fill="#1f77b4" stroke="none" stroke-width="1.0"/>
<circle cx="445.2" cy="312.9" r="2.5" fill="#1f77b4" stroke="none" stroke-width="1.0"/>
<circle cx="441.2" cy="316.1" r="2.5" fill="#1f77b4" stroke="none" stroke-width="1.0"/>
<circle cx="438.8" cy="320.9" r="2.5" fill="#1f77b4" stroke="none" stroke-width="1.0"/>
<circle cx="458.1" cy="309.7" r="2.5" fill="#1f77b4" stroke="none" stroke-width="1.0"/>
<circle cx="462.1" cy="310.5" r="2.5" fill="#1f77b4" stroke="none" stroke-width="1.0"/>
<circle cx="457.6" cy="319.3" r="2.5" fill="#1f77b4" stroke="none" stroke-width="1.0"/>
<circle cx="470.9" cy="312.9" r="2.5" fill="#1f77b4" stroke="none" stroke-width="1.0"/>
<circle cx="474.9" cy="306.5" r="2.5" fill="#1f77b4" stroke="none" stroke-width="1.0"/>
<circle cx="478.2" cy="312.1" r="2.5" fill="#1f77b4" stroke="none" stroke-width="1.0"/>
<circle cx="481.4" cy="313.7" r="2.5" fill="#1f77b4" stroke="none" stroke-width="1.0"/>
<circle cx="483.8" cy="308.1" r="2.5" fill="#1f77b4" stroke="none" stroke-width="1.0"/>
<circle cx="489.4" cy="308.5" r="2.5" fill="#1f77b4" stroke="none" stroke-width="1.0"/>
<circle cx="474.6" cy="318.5" r="2.5" fill="#1f77b4" stroke="none" stroke-width="1.0"/>
<circle cx="504.6" cy="305.7" r="2.5" fill="#1f77b4" stroke="none" stroke-width="1.0"/>
<circle cx="517.5" cy="301.3" r="2.5" fill="#1f77b4" stroke="none" stroke-width="1.0"/>
<circle cx="524.7" cy="296" r="2.5" fill="#1f77b4" stroke="none" stroke-width="1.0"/>
<circle cx="525.8" cy="303.2" r="2.5" fill="#1f77b4" stroke="none" stroke-width="1.0"/>
<circle cx="528.7" cy="302.9" r="2.5" fill="#1f77b4" stroke="none" stroke-width="1.0"/>
<circle cx="437.2" cy="338.1" r="2.5" fill="#1f77b4" stroke="none" stroke-width="1.0"/>
<circle cx="412.8" cy="311.3" r="2.5" fill="#ff7f0e" stroke="none" stroke-width="1.0"/>
<circle cx="404.3" cy="320.8" r="2.5" fill="#ff7f0e" stroke="none" stroke-width="1.0"/>
<circle cx="394.7" cy="322.4" r="2.5" fill="#ff7f0e" stroke="none" stroke-width="1.0"/>
<circle cx="413.9" cy="322" r="2.5" fill="#ff7f0e" stroke="none" stroke-width="1.0"/>
<circle cx="424.2" cy="323" r="2.5" fill="#ff7f0e" stroke="none" stroke-width="1.0"/>
<circle cx="436.5" cy="316.8" r="2.5" fill="#ff7f0e" stroke="none" stroke-width="1.0"/>
<circle cx="364.1" cy="336.7" r="2.5" fill="#ff7f0e" stroke="none" stroke-width="1.0"/>
<circle cx="367.3" cy="337.2" r="2.5" fill="#ff7f0e" stroke="none" stroke-width="1.0"/>
<circle cx="360" cy="340.7" r="2.5" fill="#ff7f0e" stroke="none" stroke-width="1.0"/>
<circle cx="379.6" cy="334.2" r="2.5" fill="#ff7f0e" stroke="none" stroke-width="1.0"/>
<circle cx="384" cy="334.5" r="2.5" fill="#ff7f0e" stroke="none" stroke-width="1.0"/>
<circle cx="394.7" cy="336" r="2.5" fill="#ff7f0e" stroke="none" stroke-width="1.0"/>
<circle cx="398.3" cy="334.5" r="2.5" fill="#ff7f0e" stroke="none" stroke-width="1.0"/>
<circle cx="402.8" cy="329.4" r="2.5" fill="#ff7f0e" stroke="none" stroke-width="1.0"/>
<circle cx="406.5" cy="329.4" r="2.5" fill="#ff7f0e" stroke="none" stroke-width="1.0"/>
<circle cx="402" cy="340.4" r="2.5" fill="#ff7f0e" stroke="none" stroke-width="1.0"/>
<circle cx="372.8" cy="346.3" r="2.5" fill="#ff7f0e" stroke="none" stroke-width="1.0"/>
<circle cx="377.7" cy="347.1" r="2.5" fill="#ff7f0e" stroke="none" stroke-width="1.0"/>
<circle cx="375.2" cy="351.8" r="2.5" fill="#ff7f0e" stroke="none" stroke-width="1.0"/>
<circle cx="383.6" cy="353.3" r="2.5" fill="#ff7f0e" stroke="none" stroke-width="1.0"/>
<circle cx="388" cy="345.6" r="2.5" fill="#ff7f0e" stroke="none" stroke-width="1.0"/>
<circle cx="391" cy="349.3" r="2.5" fill="#ff7f0e" stroke="none" stroke-width="1.0"/>
<circle cx="392.9" cy="351.2" r="2.5" fill="#ff7f0e" stroke="none" stroke-width="1.0"/>
<circle cx="361.9" cy="358.6" r="2.5" fill="#ff7f0e" stroke="none" stroke-width="1.0"/>
<circle cx="425.4" cy="332" r="2.5" fill="#ff7f0e" stroke="none" stroke-width="1.0"/>
<circle cx="430.1" cy="330.8" r="2.5" fill="#ff7f0e" stroke="none" stroke-width="1.0"/>
<circle cx="431.6" cy="327.1" r="2.5" fill="#ff7f0e" stroke="none" stroke-width="1.0"/>
<circle cx="436.7" cy="331.3" r="2.5" fill="#ff7f0e" stroke="none" stroke-width="1.0"/>
<circle cx="475.4" cy="302.8" r="2.5" fill="#ff7f0e" stroke="none" stroke-width="1.0"/>
<circle cx="450.5" cy="312.9" r="2.5" fill="#ff7f0e" stroke="none" stroke-width="1.0"/>
<circle cx="436.4" cy="316.9" r="2.5" fill="#ff7f0e" stroke="none" stroke-width="1.0"/>
<circle cx="446.1" cy="316.1" r="2.5" fill="#ff7f0e" stroke="none" stroke-width="1.0"/>
<circle cx="452.8" cy="319.3" r="2.5" fill="#ff7f0e" stroke="none" stroke-width="1.0"/>
<circle cx="498.2" cy="317.7" r="2.5" fill="#ff7f0e" stroke="none" stroke-width="1.0"/>
<circle cx="522.3" cy="300.5" r="2.5" fill="#ff7f0e" stroke="none" stroke-width="1.0"/>
<circle cx="431.6" cy="326.5" r="2.5" fill="#ff7f0e" stroke="none" stroke-width="1.0"/>
<circle cx="430.8" cy="330.5" r="2.5" fill="#ff7f0e" stroke="none" stroke-width="1.0"/>
<circle cx="440.4" cy="326.5" r="2.5" fill="#ff7f0e" stroke="none" stroke-width="1.0"/>
<circle cx="445.2" cy="325.2" r="2.5" fill="#ff7f0e" stroke="none" stroke-width="1.0"/>
<circle cx="448.5" cy="324.9" r="2.5" fill="#ff7f0e" stroke="none" stroke-width="1.0"/>
<circle cx="436.4" cy="331" r="2.5" fill="#ff7f0e" stroke="none" stroke-width="1.0"/>
<circle cx="448" cy="334.2" r="2.5" fill="#ff7f0e" stroke="none" stroke-width="1.0"/>
<line x1="342.7" y1="347.7" x2="537.5" y2="294.1" stroke="#000" stroke-width="1.3" />
<line x1="342.7" y1="336.7" x2="537.5" y2="297" stroke="#1f77b4" stroke-width="1.1" stroke-dasharray="3.7,1.6"/>
<line x1="342.7" y1="353.6" x2="537.5" y2="296" stroke="#ff7f0e" stroke-width="1.1" stroke-dasharray="3.7,1.6"/>
</svg>
<rect x="342.5" y="290.5" width="195" height="74" fill="none" stroke="#000" stroke-width="1.0"/>
<line x1="338.3" y1="290.5" x2="342.5" y2="290.5" stroke="#000" stroke-width="0.9" />
<text x="333.4" y="294.68" font-size="10.0" text-anchor="end" fill="#000">0.90</text>
<line x1="338.3" y1="315.5" x2="342.5" y2="315.5" stroke="#000" stroke-width="0.9" />
<text x="333.4" y="319.68" font-size="10.0" text-anchor="end" fill="#000">0.75</text>
<line x1="338.3" y1="339.5" x2="342.5" y2="339.5" stroke="#000" stroke-width="0.9" />
<text x="333.4" y="343.68" font-size="10.0" text-anchor="end" fill="#000">0.60</text>
<line x1="338.3" y1="364.5" x2="342.5" y2="364.5" stroke="#000" stroke-width="0.9" />
<text x="333.4" y="368.68" font-size="10.0" text-anchor="end" fill="#000">0.45</text>
<line x1="342.5" y1="364.5" x2="342.5" y2="368.7" stroke="#000" stroke-width="0.9" />
<text x="342.5" y="380.7" font-size="10.0" text-anchor="middle" fill="#000">0.00</text>
<line x1="381.5" y1="364.5" x2="381.5" y2="368.7" stroke="#000" stroke-width="0.9" />
<text x="381.5" y="380.7" font-size="10.0" text-anchor="middle" fill="#000">0.05</text>
<line x1="420.5" y1="364.5" x2="420.5" y2="368.7" stroke="#000" stroke-width="0.9" />
<text x="420.5" y="380.7" font-size="10.0" text-anchor="middle" fill="#000">0.10</text>
<line x1="459.5" y1="364.5" x2="459.5" y2="368.7" stroke="#000" stroke-width="0.9" />
<text x="459.5" y="380.7" font-size="10.0" text-anchor="middle" fill="#000">0.15</text>
<line x1="498.5" y1="364.5" x2="498.5" y2="368.7" stroke="#000" stroke-width="0.9" />
<text x="498.5" y="380.7" font-size="10.0" text-anchor="middle" fill="#000">0.20</text>
<line x1="537.5" y1="364.5" x2="537.5" y2="368.7" stroke="#000" stroke-width="0.9" />
<text x="537.5" y="380.7" font-size="10.0" text-anchor="middle" fill="#000">0.25</text>
<text x="440.1" y="393" font-size="11.5" text-anchor="middle" fill="#000">Mean Stability</text>
<text x="306.5" y="327.25" font-size="11.5" text-anchor="middle" fill="#000" transform="rotate(-90 306.5 327.25)">Mean Coherence</text>
<text x="287.5" y="284.9" font-size="14.3" text-anchor="start" fill="#000" font-weight="bold">h</text>
<path d="M58.3 428.3 C58.55 428.48 59.28 429.65 59.8 429.4 C60.32 429.15 61.13 427.23 61.4 426.8 L61.8 492.7 C62.23 492.08 63.08 491.07 64.4 489 C65.72 486.93 68.57 481.57 69.7 480.3 C70.83 479.03 70.57 480.33 71.2 481.4 C71.83 482.47 72.62 486.07 73.5 486.7 C74.38 487.33 75.62 484.32 76.5 485.2 C77.38 486.08 77.78 491.38 78.8 492 C79.82 492.62 81.47 489.28 82.6 488.9 C83.73 488.52 84.85 489.32 85.6 489.7 C86.35 490.08 86.33 492.02 87.1 491.2 C87.87 490.38 89.07 486.07 90.2 484.8 C91.33 483.53 93.02 484.68 93.9 483.6 C94.78 482.52 94.35 480.32 95.5 478.3 C96.65 476.28 99.42 472.5 100.8 471.5 C102.18 470.5 102.55 471.8 103.8 472.3 C105.05 472.8 106.4 474.63 108.3 474.5 C110.2 474.37 113.17 470.98 115.2 471.5 C117.23 472.02 118.73 477.85 120.5 477.6 C122.27 477.35 124.03 472.28 125.8 470 C127.57 467.72 129.22 464.53 131.1 463.9 C132.98 463.27 135.62 465.93 137.1 466.2 C138.58 466.47 139.13 465.62 140 465.5 C140.87 465.38 141.67 467.02 142.3 465.5 C142.93 463.98 143.3 459.95 143.8 456.4 C144.3 452.85 144.67 447.23 145.3 444.2 C145.93 441.17 146.85 439.83 147.6 438.2 C148.35 436.57 148.92 435.03 149.8 434.4 C150.68 433.77 152 433.77 152.9 434.4 C153.8 435.03 154.52 436.82 155.2 438.2 C155.88 439.58 156.38 443.47 157 442.7 C157.62 441.93 158.32 435.87 158.9 433.6 C159.48 431.33 159.98 428.58 160.5 429.1 C161.02 429.62 161.58 434.23 162 436.7 C162.42 439.17 158.33 442.77 163 443.9 C167.67 445.03 185.12 444.7 190 443.5 C194.88 442.3 191.42 438.9 192.3 436.7 C193.18 434.5 194.42 430.93 195.3 430.3 C196.18 429.67 196.85 431.58 197.6 432.9 C198.35 434.22 199.05 437.07 199.8 438.2 C200.55 439.33 201.2 439.95 202.1 439.7 C203 439.45 203.8 437.97 205.2 436.7 C206.6 435.43 209.25 432.35 210.5 432.1 C211.75 431.85 211.95 433.55 212.7 435.2 C213.45 436.85 214.23 440.87 215 442 C215.77 443.13 216.67 442.63 217.3 442 C217.93 441.37 218.55 438.83 218.8 438.2 L219.1 426.1 L219.1 491.2 C219.3 489.93 219.85 484.73 220.3 483.6 C220.75 482.47 221.17 483.63 221.8 484.4 C222.43 485.17 223.47 486.68 224.1 488.2 C224.73 489.72 225.35 492.62 225.6 493.5 L226.1 426.1" fill="none" stroke="#3b8bc8" stroke-width="1.1" stroke-linejoin="round"/>
<path d="M58.3 493.8 C61.33 492.23 70.05 487.35 76.5 484.4 C82.95 481.45 89.3 478.75 97 476.1 C104.7 473.45 116.9 470.65 122.7 468.5 C128.5 466.35 128.13 465.42 131.8 463.2 C135.47 460.98 139.67 457.85 144.7 455.2 C149.73 452.55 153.95 448.62 162 447.3 C170.05 445.98 186.57 447.82 193 447.3 C199.43 446.78 197.32 445.97 200.6 444.2 C203.88 442.43 208.4 439.67 212.7 436.7 C217 433.73 224.12 428.12 226.4 426.4" fill="none" stroke="#111" stroke-width="1.1" stroke-linejoin="round" />
<path d="M252.6 435.2 L254.8 434.4 L257.1 435.2 L258.6 439.7 L259.4 453.3 L261.7 456.4 L263.9 463.9 L265.5 480.6 L267.4 490.9 L270 486.7 L272.3 471.5 L274.1 444.2 L275.3 437.4 L278 434.4 L278.6 462.4 L279.5 464.7 L280.6 436.7 L282.1 435.5 L285.9 436.7 L288.9 440.5 L293.5 427.6 L296.5 438.9 L299.5 439.7 L304.1 448.8 L311.7 449.1 L313.2 453.3 L318.5 454.1 L320.3 458.6 L323.8 444.2 L326.8 440 L329.1 441.2 L331.1 460.2 L335.9 457.9 L338.2 449.5 L341.1 447.3 L344.1 442.7 L345.6 438.2 L346.4 426.8 L346.4 491.2 L347.9 473.8 L350.2 473.3 L352.4 476.1 L353.9 483.6 L354.7 489.7 L356.2 492.7 L356.2 426.8 L357.7 438.2 L360.8 443.5 L363 454.8 L365.3 447.3 L367.3 428.3 L367.3 492.4 L369.1 477.6 L372.1 477.3 L373.6 454.8 L375.2 445 L378.2 442.7 L379.7 438.2 L382 430.6 L384.2 432.1 L385.8 432.1 L386.8 427.3 L386.8 492.4 L388 481.4 L392.3 480.6 L392.6 487.4 L392.6 430.9 L394.1 442.7 L398.6 448 L402.4 451.1 L403.9 451.8 L404.7 480.6 L407.7 487.4 L412.3 492 L414.5 485.9 L416.1 488.9 L417.6 492.7 L417.6 426.8 L419.1 426.1 L419.8 492.7 L420.6 426.8 L421.1 492.7" fill="none" stroke="#ff7f0e" stroke-width="1.0" stroke-linejoin="round" />
<path d="M252.6 493.5 C253.35 493 254.58 491.27 257.1 490.5 C259.62 489.73 264.42 489.53 267.7 488.9 C270.98 488.27 273.77 487.95 276.8 486.7 C279.83 485.45 281.6 483.12 285.9 481.4 C290.2 479.68 296.92 477.23 302.6 476.4 C308.28 475.57 315.2 477.08 320 476.4 C324.8 475.72 328.4 473.23 331.4 472.3 C334.4 471.37 336.13 471.63 338 470.8 C339.87 469.97 340.07 468.23 342.6 467.3 C345.13 466.37 350.43 466.13 353.2 465.2 C355.97 464.27 355.92 463.3 359.2 461.7 C362.48 460.1 368.35 458 372.9 455.6 C377.45 453.2 382.72 449.45 386.5 447.3 C390.28 445.15 393.32 443.72 395.6 442.7 C397.88 441.68 397.67 442.83 400.2 441.2 C402.73 439.57 407.4 435.42 410.8 432.9 C414.2 430.38 418.97 427.23 420.6 426.1" fill="none" stroke="#111" stroke-width="1.1" stroke-linejoin="round" />
<rect x="50.5" y="423.5" width="184" height="74" fill="none" stroke="#000" stroke-width="1.0"/>
<rect x="244.5" y="422.5" width="185" height="74" fill="none" stroke="#000" stroke-width="1.0"/>
<line x1="46.3" y1="433.5" x2="50.5" y2="433.5" stroke="#000" stroke-width="0.9" />
<text x="40.9" y="437.68" font-size="10.0" text-anchor="end" fill="#000">2.5</text>
<line x1="46.3" y1="460.5" x2="50.5" y2="460.5" stroke="#000" stroke-width="0.9" />
<text x="40.9" y="464.68" font-size="10.0" text-anchor="end" fill="#000">0.0</text>
<line x1="46.3" y1="486.5" x2="50.5" y2="486.5" stroke="#000" stroke-width="0.9" />
<text x="40.9" y="490.68" font-size="10.0" text-anchor="end" fill="#000">−2.5</text>
<line x1="240.3" y1="432.5" x2="244.5" y2="432.5" stroke="#000" stroke-width="0.9" />
<line x1="240.3" y1="459.5" x2="244.5" y2="459.5" stroke="#000" stroke-width="0.9" />
<line x1="240.3" y1="486.5" x2="244.5" y2="486.5" stroke="#000" stroke-width="0.9" />
<line x1="58.5" y1="497.5" x2="58.5" y2="501.7" stroke="#000" stroke-width="0.9" />
<text x="58.5" y="513.5" font-size="10.0" text-anchor="middle" fill="#000">1140</text>
<line x1="103.5" y1="497.5" x2="103.5" y2="501.7" stroke="#000" stroke-width="0.9" />
<text x="103.5" y="513.5" font-size="10.0" text-anchor="middle" fill="#000">1145</text>
<line x1="148.5" y1="497.5" x2="148.5" y2="501.7" stroke="#000" stroke-width="0.9" />
<text x="148.5" y="513.5" font-size="10.0" text-anchor="middle" fill="#000">1150</text>
<line x1="192.5" y1="497.5" x2="192.5" y2="501.7" stroke="#000" stroke-width="0.9" />
<text x="192.5" y="513.5" font-size="10.0" text-anchor="middle" fill="#000">1155</text>
<line x1="261.5" y1="496.5" x2="261.5" y2="500.7" stroke="#000" stroke-width="0.9" />
<text x="261.5" y="513.3" font-size="10.0" text-anchor="middle" fill="#000">390</text>
<line x1="300.5" y1="496.5" x2="300.5" y2="500.7" stroke="#000" stroke-width="0.9" />
<text x="300.5" y="513.3" font-size="10.0" text-anchor="middle" fill="#000">395</text>
<line x1="339.5" y1="496.5" x2="339.5" y2="500.7" stroke="#000" stroke-width="0.9" />
<text x="339.5" y="513.3" font-size="10.0" text-anchor="middle" fill="#000">400</text>
<line x1="378.5" y1="496.5" x2="378.5" y2="500.7" stroke="#000" stroke-width="0.9" />
<text x="378.5" y="513.3" font-size="10.0" text-anchor="middle" fill="#000">405</text>
<line x1="417.5" y1="496.5" x2="417.5" y2="500.7" stroke="#000" stroke-width="0.9" />
<text x="417.5" y="513.3" font-size="10.0" text-anchor="middle" fill="#000">410</text>
<text x="142.4" y="525" font-size="11.5" text-anchor="middle" fill="#000">Time (seconds)</text>
<text x="339.8" y="524.8" font-size="11.5" text-anchor="middle" fill="#000">Time (seconds)</text>
<text x="17.5" y="460" font-size="11.5" text-anchor="middle" fill="#000" transform="rotate(-90 17.5 460)">Position (rad)</text>
<text x="142.4" y="417" font-size="12.5" text-anchor="middle" fill="#1f77b4">Y19_S1, 102 cells</text>
<text x="338.9" y="418" font-size="12.5" text-anchor="middle" fill="#ff7f0e">A13_S6, 116 cells</text>
<text x="1.5" y="417.7" font-size="14.3" text-anchor="start" fill="#000" font-weight="bold">j</text>
<svg x="482.8" y="421.6" width="194.90000000000003" height="75.0" viewBox="482.8 421.6 194.90000000000003 75.0" overflow="hidden">
<circle cx="497.9" cy="487.9" r="2.5" fill="#ff7f0e" stroke="none" stroke-width="1.0"/>
<circle cx="517.9" cy="469.2" r="2.5" fill="#ff7f0e" stroke="none" stroke-width="1.0"/>
<circle cx="521.7" cy="470.3" r="2.5" fill="#ff7f0e" stroke="none" stroke-width="1.0"/>
<circle cx="529.2" cy="475.8" r="2.5" fill="#ff7f0e" stroke="none" stroke-width="1.0"/>
<circle cx="528.2" cy="484.4" r="2.5" fill="#ff7f0e" stroke="none" stroke-width="1.0"/>
<circle cx="545.9" cy="461.2" r="2.5" fill="#ff7f0e" stroke="none" stroke-width="1.0"/>
<circle cx="544.4" cy="493" r="2.5" fill="#ff7f0e" stroke="none" stroke-width="1.0"/>
<circle cx="554.2" cy="488.2" r="2.5" fill="#ff7f0e" stroke="none" stroke-width="1.0"/>
<circle cx="555.5" cy="477.6" r="2.5" fill="#ff7f0e" stroke="none" stroke-width="1.0"/>
<circle cx="560.3" cy="446.8" r="2.5" fill="#ff7f0e" stroke="none" stroke-width="1.0"/>
<circle cx="563.8" cy="468.8" r="2.5" fill="#ff7f0e" stroke="none" stroke-width="1.0"/>
<circle cx="572" cy="446.1" r="2.5" fill="#ff7f0e" stroke="none" stroke-width="1.0"/>
<circle cx="567.1" cy="454.5" r="2.5" fill="#ff7f0e" stroke="none" stroke-width="1.0"/>
<circle cx="570.9" cy="455.2" r="2.5" fill="#ff7f0e" stroke="none" stroke-width="1.0"/>
<circle cx="574.7" cy="455.8" r="2.5" fill="#ff7f0e" stroke="none" stroke-width="1.0"/>
<circle cx="582.5" cy="435.2" r="2.5" fill="#ff7f0e" stroke="none" stroke-width="1.0"/>
<circle cx="651.2" cy="432.8" r="2.5" fill="#ff7f0e" stroke="none" stroke-width="1.0"/>
<circle cx="645.1" cy="443" r="2.5" fill="#ff7f0e" stroke="none" stroke-width="1.0"/>
<circle cx="587.5" cy="451.6" r="2.5" fill="#ff7f0e" stroke="none" stroke-width="1.0"/>
<circle cx="594.3" cy="454" r="2.5" fill="#ff7f0e" stroke="none" stroke-width="1.0"/>
<circle cx="607.1" cy="451.8" r="2.5" fill="#ff7f0e" stroke="none" stroke-width="1.0"/>
<circle cx="618" cy="449.7" r="2.5" fill="#ff7f0e" stroke="none" stroke-width="1.0"/>
<circle cx="605.2" cy="457.7" r="2.5" fill="#ff7f0e" stroke="none" stroke-width="1.0"/>
<circle cx="608.7" cy="457.7" r="2.5" fill="#ff7f0e" stroke="none" stroke-width="1.0"/>
<circle cx="585" cy="463.3" r="2.5" fill="#ff7f0e" stroke="none" stroke-width="1.0"/>
<circle cx="593.5" cy="468.2" r="2.5" fill="#ff7f0e" stroke="none" stroke-width="1.0"/>
<circle cx="575" cy="455.3" r="2.5" fill="#ff7f0e" stroke="none" stroke-width="1.0"/>
<circle cx="560.8" cy="455.2" r="2.5" fill="#1f77b4" stroke="none" stroke-width="1.0"/>
<circle cx="569.8" cy="468.5" r="2.5" fill="#1f77b4" stroke="none" stroke-width="1.0"/>
<circle cx="574.4" cy="463.6" r="2.5" fill="#1f77b4" stroke="none" stroke-width="1.0"/>
<circle cx="579.2" cy="471.5" r="2.5" fill="#1f77b4" stroke="none" stroke-width="1.0"/>
<circle cx="611.1" cy="429.3" r="2.5" fill="#1f77b4" stroke="none" stroke-width="1.0"/>
<circle cx="615.1" cy="430.4" r="2.5" fill="#1f77b4" stroke="none" stroke-width="1.0"/>
<circle cx="618" cy="428" r="2.5" fill="#1f77b4" stroke="none" stroke-width="1.0"/>
<circle cx="619.1" cy="431.2" r="2.5" fill="#1f77b4" stroke="none" stroke-width="1.0"/>
<circle cx="621.5" cy="431.6" r="2.5" fill="#1f77b4" stroke="none" stroke-width="1.0"/>
<circle cx="628.5" cy="428.8" r="2.5" fill="#1f77b4" stroke="none" stroke-width="1.0"/>
<circle cx="631.2" cy="430" r="2.5" fill="#1f77b4" stroke="none" stroke-width="1.0"/>
<circle cx="636" cy="432.4" r="2.5" fill="#1f77b4" stroke="none" stroke-width="1.0"/>
<circle cx="626.4" cy="433.6" r="2.5" fill="#1f77b4" stroke="none" stroke-width="1.0"/>
<circle cx="643.2" cy="433.6" r="2.5" fill="#1f77b4" stroke="none" stroke-width="1.0"/>
<circle cx="650.1" cy="428" r="2.5" fill="#1f77b4" stroke="none" stroke-width="1.0"/>
<circle cx="661.7" cy="431.6" r="2.5" fill="#1f77b4" stroke="none" stroke-width="1.0"/>
<circle cx="602.3" cy="436.9" r="2.5" fill="#1f77b4" stroke="none" stroke-width="1.0"/>
<circle cx="611.1" cy="438.5" r="2.5" fill="#1f77b4" stroke="none" stroke-width="1.0"/>
<circle cx="625.2" cy="438.9" r="2.5" fill="#1f77b4" stroke="none" stroke-width="1.0"/>
<circle cx="623.2" cy="444.1" r="2.5" fill="#1f77b4" stroke="none" stroke-width="1.0"/>
<circle cx="637.6" cy="446.5" r="2.5" fill="#1f77b4" stroke="none" stroke-width="1.0"/>
<circle cx="630.1" cy="449.9" r="2.5" fill="#1f77b4" stroke="none" stroke-width="1.0"/>
<circle cx="595.9" cy="453.7" r="2.5" fill="#1f77b4" stroke="none" stroke-width="1.0"/>
<circle cx="593.5" cy="458.2" r="2.5" fill="#1f77b4" stroke="none" stroke-width="1.0"/>
<circle cx="603.6" cy="458.5" r="2.5" fill="#1f77b4" stroke="none" stroke-width="1.0"/>
<circle cx="616.4" cy="457.2" r="2.5" fill="#1f77b4" stroke="none" stroke-width="1.0"/>
<circle cx="624.4" cy="459.3" r="2.5" fill="#1f77b4" stroke="none" stroke-width="1.0"/>
<circle cx="642.1" cy="458.8" r="2.5" fill="#1f77b4" stroke="none" stroke-width="1.0"/>
<circle cx="645.3" cy="460.1" r="2.5" fill="#1f77b4" stroke="none" stroke-width="1.0"/>
<circle cx="614.3" cy="464.6" r="2.5" fill="#1f77b4" stroke="none" stroke-width="1.0"/>
<circle cx="628" cy="464.6" r="2.5" fill="#1f77b4" stroke="none" stroke-width="1.0"/>
<circle cx="575" cy="463.3" r="2.5" fill="#1f77b4" stroke="none" stroke-width="1.0"/>
<circle cx="579.5" cy="471.7" r="2.5" fill="#1f77b4" stroke="none" stroke-width="1.0"/>
<circle cx="602.3" cy="471.8" r="2.5" fill="#1f77b4" stroke="none" stroke-width="1.0"/>
<circle cx="613.5" cy="471.4" r="2.5" fill="#1f77b4" stroke="none" stroke-width="1.0"/>
<circle cx="623.2" cy="469.4" r="2.5" fill="#1f77b4" stroke="none" stroke-width="1.0"/>
<circle cx="582.5" cy="489" r="2.5" fill="#1f77b4" stroke="none" stroke-width="1.0"/>
<line x1="482.8" y1="490" x2="677.7" y2="429.6" stroke="#000" stroke-width="1.3" />
<line x1="487.6" y1="496.5" x2="677.7" y2="427.2" stroke="#1f77b4" stroke-width="1.1" stroke-dasharray="3.7,1.6"/>
<line x1="482.8" y1="488.7" x2="600" y2="452" stroke="#ff7f0e" stroke-width="1.1" stroke-dasharray="3.7,1.6"/>
</svg>
<rect x="482.5" y="421.5" width="195" height="75" fill="none" stroke="#000" stroke-width="1.0"/>
<line x1="478.3" y1="421.5" x2="482.5" y2="421.5" stroke="#000" stroke-width="0.9" />
<text x="473.5" y="425.68" font-size="10.0" text-anchor="end" fill="#000">1.0</text>
<line x1="478.3" y1="459.5" x2="482.5" y2="459.5" stroke="#000" stroke-width="0.9" />
<text x="473.5" y="463.68" font-size="10.0" text-anchor="end" fill="#000">0.5</text>
<line x1="478.3" y1="496.5" x2="482.5" y2="496.5" stroke="#000" stroke-width="0.9" />
<text x="473.5" y="500.68" font-size="10.0" text-anchor="end" fill="#000">0.0</text>
<line x1="504.5" y1="496.5" x2="504.5" y2="500.7" stroke="#000" stroke-width="0.9" />
<text x="504.5" y="513.1" font-size="10.0" text-anchor="middle" fill="#000">0.5</text>
<line x1="547.5" y1="496.5" x2="547.5" y2="500.7" stroke="#000" stroke-width="0.9" />
<text x="547.5" y="513.1" font-size="10.0" text-anchor="middle" fill="#000">0.6</text>
<line x1="591.5" y1="496.5" x2="591.5" y2="500.7" stroke="#000" stroke-width="0.9" />
<text x="591.5" y="513.1" font-size="10.0" text-anchor="middle" fill="#000">0.7</text>
<line x1="634.5" y1="496.5" x2="634.5" y2="500.7" stroke="#000" stroke-width="0.9" />
<text x="634.5" y="513.1" font-size="10.0" text-anchor="middle" fill="#000">0.8</text>
<line x1="677.5" y1="496.5" x2="677.5" y2="500.7" stroke="#000" stroke-width="0.9" />
<text x="677.5" y="513.1" font-size="10.0" text-anchor="middle" fill="#000">0.9</text>
<text x="580.25" y="524.6" font-size="11.5" text-anchor="middle" fill="#000">Mean Coherence</text>
<text x="452" y="459.1" font-size="11.5" text-anchor="middle" fill="#000" transform="rotate(-90 452 459.1)">Decoder Score</text>
<text x="435" y="414.6" font-size="14.3" text-anchor="start" fill="#000" font-weight="bold">k</text>
</svg>
</body></html>
